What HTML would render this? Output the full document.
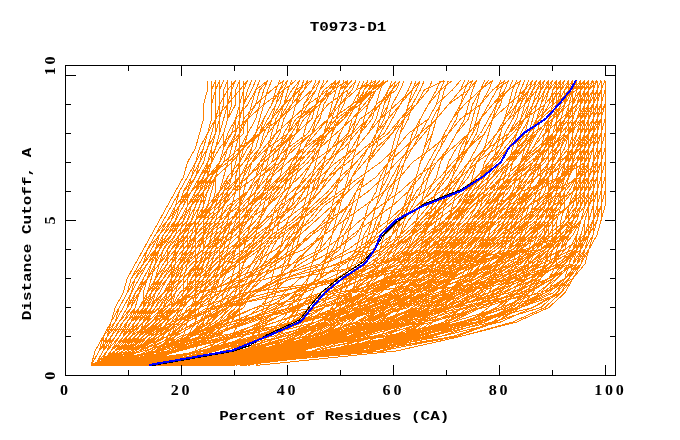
<!DOCTYPE html>
<html><head><meta charset="utf-8"><title>T0973-D1</title>
<style>
html,body{margin:0;padding:0;background:#fff;}
body{width:680px;height:440px;overflow:hidden;position:relative;}
svg{position:absolute;left:0;top:0;}
.t{font-family:"Liberation Mono",monospace;font-weight:bold;fill:#000;}
.n{font-family:"Liberation Serif",serif;font-weight:bold;fill:#000;}
</style></head><body>
<svg width="680" height="440" viewBox="0 0 680 440">
<g fill="none" stroke="#ff8000" stroke-width="1" shape-rendering="crispEdges">
<polyline points="91.1,365.5 95.1,351 103.1,336.5 111.1,322 115.2,307.5 123.2,293 127.2,278.5 135.2,264 143.3,249.5 151.3,235 159.3,220.5 167.3,206 175.4,191.5 183.4,177 187.4,162.5 195.5,148 199.5,133.5 203.5,119 203.5,104.5 207.5,90 207.5,80.5"/>
<polyline points="255.7,365.5 396.2,351 460.5,336.5 516.7,322 548.8,307.5 564.8,293 572.9,278.5 584.9,264 588.9,249.5 597,235 601,220.5 605,206 605,191.5 605,177 605,162.5 605,148 605,133.5 605,119 605,104.5 605,90 605,80.5"/>
<polyline points="183.4,365.5 263.7,351 323.9,336.5 372.1,322 400.2,307.5 432.3,293 452.4,278.5 476.5,264 496.6,249.5 512.7,235 532.7,220.5 544.8,206 552.8,191.5 560.8,177 568.9,162.5 572.9,148 576.9,133.5 580.9,119 584.9,104.5 588.9,90 588.9,80.5"/>
<polyline points="239.6,365.5 364.1,351 424.3,336.5 480.5,322 512.7,307.5 528.7,293 540.8,278.5 552.8,264 556.8,249.5 564.8,235 572.9,220.5 580.9,206 580.9,191.5 584.9,177 584.9,162.5 584.9,148 588.9,133.5 588.9,119 588.9,104.5 593,90 593,80.5"/>
<polyline points="175.4,365.5 360.1,351 388.2,336.5 404.2,322 428.3,307.5 460.5,293 496.6,278.5 516.7,264 528.7,249.5 532.7,235 540.8,220.5 548.8,206 552.8,191.5 560.8,177 564.8,162.5 568.9,148 572.9,133.5 572.9,119 576.9,104.5 580.9,90 580.9,80.5"/>
<polyline points="139.2,365.5 259.7,351 336,336.5 388.2,322 424.3,307.5 456.4,293 480.5,278.5 508.6,264 528.7,249.5 548.8,235 564.8,220.5 576.9,206 584.9,191.5 593,177 597,162.5 601,148 601,133.5 605,119 605,104.5 605,90 605,80.5"/>
<polyline points="155.3,365.5 267.7,351 328,336.5 368.1,322 400.2,307.5 440.4,293 492.6,278.5 540.8,264 572.9,249.5 588.9,235 597,220.5 597,206 597,191.5 601,177 601,162.5 601,148 601,133.5 601,119 601,104.5 601,90 601,80.5"/>
<polyline points="227.6,365.5 275.8,351 307.9,336.5 328,322 348,307.5 360.1,293 384.2,278.5 456.4,264 540.8,249.5 568.9,235 576.9,220.5 580.9,206 584.9,191.5 588.9,177 588.9,162.5 593,148 597,133.5 597,119 597,104.5 601,90 601,80.5"/>
<polyline points="175.4,365.5 259.7,351 311.9,336.5 360.1,322 396.2,307.5 428.3,293 444.4,278.5 472.5,264 492.6,249.5 508.6,235 524.7,220.5 540.8,206 548.8,191.5 560.8,177 564.8,162.5 572.9,148 580.9,133.5 580.9,119 588.9,104.5 593,90 593,80.5"/>
<polyline points="127.2,365.5 348,351 408.3,336.5 432.3,322 464.5,307.5 520.7,293 548.8,278.5 556.8,264 556.8,249.5 560.8,235 560.8,220.5 564.8,206 564.8,191.5 568.9,177 568.9,162.5 568.9,148 572.9,133.5 572.9,119 572.9,104.5 576.9,90 576.9,80.5"/>
<polyline points="95.1,365.5 247.7,351 336,336.5 392.2,322 448.4,307.5 500.6,293 536.7,278.5 552.8,264 564.8,249.5 568.9,235 572.9,220.5 576.9,206 576.9,191.5 580.9,177 584.9,162.5 584.9,148 588.9,133.5 588.9,119 593,104.5 593,90 593,80.5"/>
<polyline points="235.6,365.5 279.8,351 311.9,336.5 336,322 356.1,307.5 376.1,293 400.2,278.5 420.3,264 444.4,249.5 464.5,235 484.5,220.5 500.6,206 516.7,191.5 524.7,177 532.7,162.5 540.8,148 544.8,133.5 548.8,119 552.8,104.5 552.8,90 556.8,80.5"/>
<polyline points="95.1,365.5 259.7,351 328,336.5 376.1,322 416.3,307.5 444.4,293 472.5,278.5 492.6,264 512.7,249.5 528.7,235 544.8,220.5 556.8,206 568.9,191.5 576.9,177 580.9,162.5 588.9,148 593,133.5 597,119 597,104.5 601,90 601,80.5"/>
<polyline points="131.2,365.5 235.6,351 307.9,336.5 360.1,322 396.2,307.5 424.3,293 448.4,278.5 464.5,264 476.5,249.5 484.5,235 492.6,220.5 500.6,206 504.6,191.5 512.7,177 520.7,162.5 532.7,148 544.8,133.5 560.8,119 576.9,104.5 588.9,90 597,80.5"/>
<polyline points="119.2,365.5 247.7,351 323.9,336.5 372.1,322 400.2,307.5 420.3,293 432.3,278.5 440.4,264 448.4,249.5 460.5,235 472.5,220.5 484.5,206 504.6,191.5 520.7,177 540.8,162.5 556.8,148 568.9,133.5 580.9,119 593,104.5 597,90 601,80.5"/>
<polyline points="91.1,365.5 155.3,351 207.5,336.5 251.7,322 295.8,307.5 352,293 420.3,278.5 476.5,264 512.7,249.5 532.7,235 544.8,220.5 552.8,206 560.8,191.5 564.8,177 572.9,162.5 576.9,148 580.9,133.5 584.9,119 588.9,104.5 588.9,90 593,80.5"/>
<polyline points="223.6,365.5 356.1,351 412.3,336.5 444.4,322 460.5,307.5 476.5,293 504.6,278.5 536.7,264 560.8,249.5 568.9,235 572.9,220.5 576.9,206 580.9,191.5 584.9,177 588.9,162.5 588.9,148 593,133.5 593,119 597,104.5 597,90 597,80.5"/>
<polyline points="127.2,365.5 179.4,351 215.5,336.5 239.6,322 259.7,307.5 271.7,293 287.8,278.5 295.8,264 307.9,249.5 319.9,235 328,220.5 336,206 344,191.5 352,177 360.1,162.5 368.1,148 376.1,133.5 380.2,119 388.2,104.5 392.2,90 400.2,80.5"/>
<polyline points="119.2,365.5 287.8,351 328,336.5 336,322 340,307.5 348,293 388.2,278.5 468.5,264 528.7,249.5 544.8,235 544.8,220.5 548.8,206 548.8,191.5 548.8,177 552.8,162.5 552.8,148 552.8,133.5 556.8,119 556.8,104.5 560.8,90 560.8,80.5"/>
<polyline points="115.2,365.5 175.4,351 235.6,336.5 291.8,322 348,307.5 396.2,293 436.4,278.5 464.5,264 484.5,249.5 504.6,235 516.7,220.5 528.7,206 540.8,191.5 548.8,177 556.8,162.5 564.8,148 568.9,133.5 576.9,119 580.9,104.5 580.9,90 584.9,80.5"/>
<polyline points="127.2,365.5 267.7,351 356.1,336.5 404.2,322 436.4,307.5 460.5,293 488.6,278.5 528.7,264 564.8,249.5 584.9,235 593,220.5 597,206 597,191.5 597,177 597,162.5 597,148 601,133.5 601,119 601,104.5 601,90 601,80.5"/>
<polyline points="127.2,365.5 319.9,351 396.2,336.5 444.4,322 476.5,307.5 488.6,293 496.6,278.5 504.6,264 508.6,249.5 516.7,235 520.7,220.5 524.7,206 528.7,191.5 532.7,177 536.7,162.5 540.8,148 544.8,133.5 548.8,119 552.8,104.5 556.8,90 556.8,80.5"/>
<polyline points="127.2,365.5 247.7,351 323.9,336.5 388.2,322 448.4,307.5 508.6,293 548.8,278.5 576.9,264 588.9,249.5 593,235 593,220.5 597,206 597,191.5 597,177 597,162.5 601,148 601,133.5 601,119 601,104.5 601,90 601,80.5"/>
<polyline points="187.4,365.5 263.7,351 323.9,336.5 368.1,322 400.2,307.5 428.3,293 448.4,278.5 468.5,264 480.5,249.5 492.6,235 500.6,220.5 508.6,206 516.7,191.5 520.7,177 524.7,162.5 528.7,148 532.7,133.5 536.7,119 552.8,104.5 576.9,90 588.9,80.5"/>
<polyline points="171.4,365.5 239.6,351 291.8,336.5 336,322 376.1,307.5 416.3,293 456.4,278.5 492.6,264 528.7,249.5 552.8,235 572.9,220.5 584.9,206 593,191.5 597,177 601,162.5 601,148 601,133.5 605,119 605,104.5 605,90 605,80.5"/>
<polyline points="95.1,365.5 179.4,351 231.6,336.5 275.8,322 315.9,307.5 352,293 384.2,278.5 416.3,264 440.4,249.5 460.5,235 480.5,220.5 492.6,206 504.6,191.5 512.7,177 520.7,162.5 524.7,148 532.7,133.5 536.7,119 540.8,104.5 544.8,90 548.8,80.5"/>
<polyline points="115.2,365.5 147.3,351 171.4,336.5 195.5,322 227.6,307.5 275.8,293 336,278.5 384.2,264 420.3,249.5 436.4,235 452.4,220.5 460.5,206 472.5,191.5 480.5,177 488.6,162.5 500.6,148 504.6,133.5 512.7,119 520.7,104.5 524.7,90 528.7,80.5"/>
<polyline points="175.4,365.5 348,351 428.3,336.5 468.5,322 488.6,307.5 500.6,293 508.6,278.5 516.7,264 520.7,249.5 524.7,235 528.7,220.5 532.7,206 536.7,191.5 540.8,177 540.8,162.5 544.8,148 548.8,133.5 548.8,119 552.8,104.5 556.8,90 556.8,80.5"/>
<polyline points="203.5,365.5 368.1,351 452.4,336.5 496.6,322 520.7,307.5 532.7,293 540.8,278.5 544.8,264 548.8,249.5 552.8,235 552.8,220.5 552.8,206 556.8,191.5 556.8,177 560.8,162.5 572.9,148 588.9,133.5 597,119 605,104.5 605,90 605,80.5"/>
<polyline points="95.1,365.5 155.3,351 191.4,336.5 219.5,322 235.6,307.5 251.7,293 275.8,278.5 307.9,264 336,249.5 356.1,235 364.1,220.5 376.1,206 384.2,191.5 392.2,177 400.2,162.5 408.3,148 412.3,133.5 420.3,119 428.3,104.5 436.4,90 440.4,80.5"/>
<polyline points="195.5,365.5 295.8,351 356.1,336.5 392.2,322 420.3,307.5 440.4,293 452.4,278.5 464.5,264 472.5,249.5 480.5,235 488.6,220.5 496.6,206 500.6,191.5 508.6,177 512.7,162.5 516.7,148 524.7,133.5 528.7,119 532.7,104.5 536.7,90 540.8,80.5"/>
<polyline points="115.2,365.5 167.3,351 199.5,336.5 219.5,322 255.7,307.5 336,293 408.3,278.5 432.3,264 440.4,249.5 448.4,235 456.4,220.5 460.5,206 468.5,191.5 472.5,177 476.5,162.5 484.5,148 488.6,133.5 492.6,119 496.6,104.5 500.6,90 504.6,80.5"/>
<polyline points="119.2,365.5 263.7,351 356.1,336.5 412.3,322 448.4,307.5 472.5,293 488.6,278.5 496.6,264 504.6,249.5 508.6,235 512.7,220.5 516.7,206 520.7,191.5 528.7,177 536.7,162.5 544.8,148 556.8,133.5 564.8,119 572.9,104.5 580.9,90 584.9,80.5"/>
<polyline points="91.1,365.5 115.2,351 139.2,336.5 155.3,322 175.4,307.5 191.4,293 207.5,278.5 219.5,264 231.6,249.5 243.6,235 255.7,220.5 267.7,206 279.8,191.5 287.8,177 299.8,162.5 311.9,148 323.9,133.5 336,119 356.1,104.5 376.1,90 388.2,80.5"/>
<polyline points="167.3,365.5 251.7,351 291.8,336.5 336,322 368.1,307.5 392.2,293 420.3,278.5 448.4,264 464.5,249.5 484.5,235 496.6,220.5 516.7,206 520.7,191.5 532.7,177 536.7,162.5 544.8,148 548.8,133.5 552.8,119 556.8,104.5 560.8,90 560.8,80.5"/>
<polyline points="131.2,365.5 251.7,351 336,336.5 400.2,322 444.4,307.5 476.5,293 500.6,278.5 520.7,264 536.7,249.5 548.8,235 556.8,220.5 560.8,206 564.8,191.5 568.9,177 572.9,162.5 576.9,148 588.9,133.5 601,119 601,104.5 601,90 601,80.5"/>
<polyline points="227.6,365.5 348,351 404.2,336.5 464.5,322 496.6,307.5 516.7,293 532.7,278.5 548.8,264 552.8,249.5 564.8,235 568.9,220.5 576.9,206 580.9,191.5 580.9,177 580.9,162.5 584.9,148 584.9,133.5 584.9,119 588.9,104.5 588.9,90 588.9,80.5"/>
<polyline points="115.2,365.5 175.4,351 227.6,336.5 275.8,322 323.9,307.5 368.1,293 412.3,278.5 444.4,264 472.5,249.5 492.6,235 508.6,220.5 520.7,206 532.7,191.5 540.8,177 548.8,162.5 556.8,148 560.8,133.5 564.8,119 568.9,104.5 572.9,90 576.9,80.5"/>
<polyline points="103.1,365.5 119.2,351 135.2,336.5 147.3,322 163.3,307.5 199.5,293 243.6,278.5 291.8,264 319.9,249.5 332,235 340,220.5 348,206 356.1,191.5 364.1,177 368.1,162.5 376.1,148 380.2,133.5 388.2,119 392.2,104.5 400.2,90 404.2,80.5"/>
<polyline points="99.1,365.5 111.1,351 119.2,336.5 131.2,322 147.3,307.5 155.3,293 167.3,278.5 179.4,264 195.5,249.5 211.5,235 227.6,220.5 247.7,206 263.7,191.5 279.8,177 295.8,162.5 307.9,148 323.9,133.5 344,119 356.1,104.5 368.1,90 380.2,80.5"/>
<polyline points="111.1,365.5 259.7,351 336,336.5 392.2,322 432.3,307.5 468.5,293 500.6,278.5 528.7,264 548.8,249.5 564.8,235 580.9,220.5 584.9,206 593,191.5 597,177 597,162.5 601,148 601,133.5 601,119 605,104.5 605,90 605,80.5"/>
<polyline points="91.1,365.5 143.3,351 191.4,336.5 239.6,322 279.8,307.5 319.9,293 356.1,278.5 384.2,264 408.3,249.5 428.3,235 444.4,220.5 460.5,206 472.5,191.5 488.6,177 500.6,162.5 508.6,148 516.7,133.5 524.7,119 536.7,104.5 540.8,90 544.8,80.5"/>
<polyline points="99.1,365.5 111.1,351 119.2,336.5 131.2,322 143.3,307.5 151.3,293 155.3,278.5 167.3,264 179.4,249.5 191.4,235 203.5,220.5 219.5,206 231.6,191.5 247.7,177 259.7,162.5 275.8,148 287.8,133.5 295.8,119 315.9,104.5 332,90 336,80.5"/>
<polyline points="99.1,365.5 115.2,351 127.2,336.5 143.3,322 155.3,307.5 167.3,293 183.4,278.5 199.5,264 215.5,249.5 235.6,235 247.7,220.5 267.7,206 283.8,191.5 299.8,177 311.9,162.5 332,148 352,133.5 360.1,119 380.2,104.5 388.2,90 396.2,80.5"/>
<polyline points="227.6,365.5 372.1,351 424.3,336.5 448.4,322 460.5,307.5 468.5,293 472.5,278.5 480.5,264 484.5,249.5 488.6,235 492.6,220.5 496.6,206 500.6,191.5 504.6,177 508.6,162.5 516.7,148 532.7,133.5 552.8,119 568.9,104.5 580.9,90 588.9,80.5"/>
<polyline points="95.1,365.5 139.2,351 167.3,336.5 187.4,322 215.5,307.5 247.7,293 283.8,278.5 323.9,264 356.1,249.5 376.1,235 392.2,220.5 408.3,206 416.3,191.5 428.3,177 436.4,162.5 448.4,148 456.4,133.5 468.5,119 472.5,104.5 480.5,90 488.6,80.5"/>
<polyline points="107.1,365.5 203.5,351 271.7,336.5 328,322 372.1,307.5 404.2,293 432.3,278.5 452.4,264 472.5,249.5 484.5,235 496.6,220.5 504.6,206 520.7,191.5 560.8,177 584.9,162.5 588.9,148 593,133.5 593,119 597,104.5 597,90 597,80.5"/>
<polyline points="239.6,365.5 283.8,351 307.9,336.5 319.9,322 332,307.5 340,293 344,278.5 352,264 360.1,249.5 364.1,235 372.1,220.5 376.1,206 380.2,191.5 388.2,177 392.2,162.5 396.2,148 400.2,133.5 404.2,119 408.3,104.5 416.3,90 420.3,80.5"/>
<polyline points="111.1,365.5 151.3,351 175.4,336.5 187.4,322 211.5,307.5 267.7,293 348,278.5 404.2,264 424.3,249.5 432.3,235 436.4,220.5 440.4,206 448.4,191.5 452.4,177 456.4,162.5 460.5,148 468.5,133.5 472.5,119 476.5,104.5 480.5,90 484.5,80.5"/>
<polyline points="175.4,365.5 283.8,351 352,336.5 400.2,322 428.3,307.5 448.4,293 464.5,278.5 472.5,264 480.5,249.5 484.5,235 488.6,220.5 492.6,206 500.6,191.5 512.7,177 528.7,162.5 548.8,148 568.9,133.5 584.9,119 593,104.5 601,90 601,80.5"/>
<polyline points="123.2,365.5 175.4,351 211.5,336.5 243.6,322 271.7,307.5 303.9,293 336,278.5 360.1,264 384.2,249.5 404.2,235 420.3,220.5 436.4,206 448.4,191.5 460.5,177 468.5,162.5 476.5,148 484.5,133.5 492.6,119 500.6,104.5 504.6,90 508.6,80.5"/>
<polyline points="91.1,365.5 159.3,351 215.5,336.5 299.8,322 368.1,307.5 400.2,293 420.3,278.5 436.4,264 452.4,249.5 464.5,235 480.5,220.5 492.6,206 500.6,191.5 512.7,177 520.7,162.5 528.7,148 536.7,133.5 540.8,119 548.8,104.5 552.8,90 556.8,80.5"/>
<polyline points="99.1,365.5 111.1,351 119.2,336.5 131.2,322 143.3,307.5 151.3,293 163.3,278.5 175.4,264 187.4,249.5 199.5,235 215.5,220.5 231.6,206 247.7,191.5 255.7,177 271.7,162.5 287.8,148 307.9,133.5 315.9,119 328,104.5 348,90 356.1,80.5"/>
<polyline points="255.7,365.5 396.2,351 460.5,336.5 512.7,322 544.8,307.5 560.8,293 568.9,278.5 580.9,264 584.9,249.5 588.9,235 593,220.5 597,206 597,191.5 597,177 597,162.5 597,148 597,133.5 597,119 597,104.5 597,90 597,80.5"/>
<polyline points="91.1,365.5 135.2,351 159.3,336.5 179.4,322 195.5,307.5 203.5,293 211.5,278.5 219.5,264 223.6,249.5 227.6,235 231.6,220.5 239.6,206 243.6,191.5 247.7,177 251.7,162.5 259.7,148 263.7,133.5 271.7,119 279.8,104.5 283.8,90 287.8,80.5"/>
<polyline points="103.1,365.5 115.2,351 123.2,336.5 135.2,322 139.2,307.5 147.3,293 155.3,278.5 163.3,264 171.4,249.5 179.4,235 191.4,220.5 199.5,206 207.5,191.5 211.5,177 219.5,162.5 227.6,148 235.6,133.5 235.6,119 239.6,104.5 243.6,90 243.6,80.5"/>
<polyline points="107.1,365.5 127.2,351 139.2,336.5 151.3,322 167.3,307.5 175.4,293 187.4,278.5 199.5,264 207.5,249.5 219.5,235 235.6,220.5 247.7,206 259.7,191.5 271.7,177 287.8,162.5 303.9,148 323.9,133.5 332,119 352,104.5 372.1,90 388.2,80.5"/>
<polyline points="115.2,365.5 159.3,351 179.4,336.5 231.6,322 315.9,307.5 376.1,293 396.2,278.5 408.3,264 412.3,249.5 424.3,235 432.3,220.5 436.4,206 444.4,191.5 452.4,177 460.5,162.5 464.5,148 472.5,133.5 476.5,119 480.5,104.5 488.6,90 492.6,80.5"/>
<polyline points="247.7,365.5 251.7,351 259.7,336.5 259.7,322 263.7,307.5 267.7,293 271.7,278.5 275.8,264 279.8,249.5 283.8,235 287.8,220.5 295.8,206 303.9,191.5 315.9,177 328,162.5 340,148 352,133.5 368.1,119 380.2,104.5 392.2,90 396.2,80.5"/>
<polyline points="95.1,365.5 175.4,351 239.6,336.5 299.8,322 348,307.5 392.2,293 428.3,278.5 456.4,264 480.5,249.5 500.6,235 512.7,220.5 524.7,206 536.7,191.5 544.8,177 552.8,162.5 556.8,148 564.8,133.5 568.9,119 572.9,104.5 576.9,90 580.9,80.5"/>
<polyline points="163.3,365.5 259.7,351 348,336.5 424.3,322 484.5,307.5 528.7,293 552.8,278.5 564.8,264 572.9,249.5 576.9,235 580.9,220.5 584.9,206 588.9,191.5 588.9,177 593,162.5 593,148 597,133.5 597,119 597,104.5 601,90 601,80.5"/>
<polyline points="111.1,365.5 131.2,351 155.3,336.5 167.3,322 183.4,307.5 195.5,293 211.5,278.5 223.6,264 243.6,249.5 259.7,235 275.8,220.5 295.8,206 311.9,191.5 328,177 348,162.5 364.1,148 384.2,133.5 392.2,119 400.2,104.5 412.3,90 416.3,80.5"/>
<polyline points="139.2,365.5 175.4,351 203.5,336.5 223.6,322 239.6,307.5 255.7,293 291.8,278.5 376.1,264 428.3,249.5 444.4,235 452.4,220.5 464.5,206 472.5,191.5 480.5,177 484.5,162.5 492.6,148 500.6,133.5 504.6,119 512.7,104.5 516.7,90 520.7,80.5"/>
<polyline points="175.4,365.5 243.6,351 291.8,336.5 336,322 384.2,307.5 424.3,293 464.5,278.5 492.6,264 516.7,249.5 528.7,235 540.8,220.5 548.8,206 552.8,191.5 560.8,177 564.8,162.5 568.9,148 572.9,133.5 576.9,119 580.9,104.5 584.9,90 584.9,80.5"/>
<polyline points="123.2,365.5 131.2,351 139.2,336.5 147.3,322 151.3,307.5 155.3,293 159.3,278.5 167.3,264 167.3,249.5 175.4,235 179.4,220.5 187.4,206 195.5,191.5 207.5,177 223.6,162.5 239.6,148 259.7,133.5 279.8,119 295.8,104.5 311.9,90 315.9,80.5"/>
<polyline points="191.4,365.5 263.7,351 319.9,336.5 356.1,322 388.2,307.5 412.3,293 432.3,278.5 444.4,264 460.5,249.5 468.5,235 476.5,220.5 488.6,206 500.6,191.5 516.7,177 532.7,162.5 548.8,148 564.8,133.5 576.9,119 588.9,104.5 593,90 597,80.5"/>
<polyline points="107.1,365.5 127.2,351 143.3,336.5 163.3,322 175.4,307.5 187.4,293 203.5,278.5 223.6,264 235.6,249.5 251.7,235 267.7,220.5 279.8,206 299.8,191.5 311.9,177 323.9,162.5 344,148 356.1,133.5 368.1,119 376.1,104.5 396.2,90 400.2,80.5"/>
<polyline points="95.1,365.5 107.1,351 115.2,336.5 123.2,322 131.2,307.5 139.2,293 147.3,278.5 159.3,264 167.3,249.5 179.4,235 195.5,220.5 211.5,206 223.6,191.5 239.6,177 251.7,162.5 267.7,148 287.8,133.5 299.8,119 319.9,104.5 332,90 348,80.5"/>
<polyline points="183.4,365.5 328,351 412.3,336.5 476.5,322 520.7,307.5 544.8,293 556.8,278.5 568.9,264 572.9,249.5 580.9,235 584.9,220.5 588.9,206 593,191.5 597,177 597,162.5 597,148 601,133.5 601,119 601,104.5 601,90 605,80.5"/>
<polyline points="111.1,365.5 135.2,351 151.3,336.5 175.4,322 191.4,307.5 207.5,293 219.5,278.5 239.6,264 259.7,249.5 279.8,235 299.8,220.5 319.9,206 340,191.5 360.1,177 380.2,162.5 396.2,148 408.3,133.5 428.3,119 436.4,104.5 452.4,90 460.5,80.5"/>
<polyline points="139.2,365.5 199.5,351 251.7,336.5 303.9,322 356.1,307.5 400.2,293 440.4,278.5 472.5,264 496.6,249.5 516.7,235 528.7,220.5 540.8,206 548.8,191.5 556.8,177 564.8,162.5 568.9,148 572.9,133.5 576.9,119 580.9,104.5 584.9,90 584.9,80.5"/>
<polyline points="99.1,365.5 111.1,351 123.2,336.5 139.2,322 151.3,307.5 163.3,293 179.4,278.5 191.4,264 207.5,249.5 227.6,235 247.7,220.5 259.7,206 275.8,191.5 291.8,177 307.9,162.5 319.9,148 336,133.5 352,119 364.1,104.5 376.1,90 384.2,80.5"/>
<polyline points="175.4,365.5 247.7,351 291.8,336.5 323.9,322 344,307.5 364.1,293 376.1,278.5 392.2,264 404.2,249.5 412.3,235 424.3,220.5 436.4,206 444.4,191.5 452.4,177 460.5,162.5 468.5,148 476.5,133.5 480.5,119 488.6,104.5 496.6,90 508.6,80.5"/>
<polyline points="115.2,365.5 135.2,351 147.3,336.5 155.3,322 163.3,307.5 167.3,293 175.4,278.5 179.4,264 187.4,249.5 191.4,235 195.5,220.5 203.5,206 207.5,191.5 215.5,177 219.5,162.5 223.6,148 227.6,133.5 235.6,119 239.6,104.5 243.6,90 247.7,80.5"/>
<polyline points="239.6,365.5 267.7,351 287.8,336.5 315.9,322 348,307.5 388.2,293 424.3,278.5 448.4,264 460.5,249.5 468.5,235 472.5,220.5 480.5,206 484.5,191.5 488.6,177 492.6,162.5 496.6,148 500.6,133.5 504.6,119 508.6,104.5 512.7,90 516.7,80.5"/>
<polyline points="99.1,365.5 115.2,351 131.2,336.5 151.3,322 171.4,307.5 191.4,293 211.5,278.5 235.6,264 251.7,249.5 267.7,235 279.8,220.5 291.8,206 295.8,191.5 303.9,177 311.9,162.5 319.9,148 323.9,133.5 328,119 336,104.5 340,90 344,80.5"/>
<polyline points="135.2,365.5 155.3,351 171.4,336.5 183.4,322 199.5,307.5 243.6,293 352,278.5 424.3,264 444.4,249.5 452.4,235 460.5,220.5 468.5,206 476.5,191.5 484.5,177 492.6,162.5 500.6,148 504.6,133.5 512.7,119 516.7,104.5 520.7,90 524.7,80.5"/>
<polyline points="163.3,365.5 215.5,351 231.6,336.5 239.6,322 239.6,307.5 239.6,293 239.6,278.5 239.6,264 239.6,249.5 239.6,235 239.6,220.5 239.6,206 239.6,191.5 239.6,177 239.6,162.5 239.6,148 239.6,133.5 239.6,119 239.6,104.5 239.6,90 239.6,80.5"/>
<polyline points="151.3,365.5 279.8,351 356.1,336.5 404.2,322 436.4,307.5 460.5,293 480.5,278.5 500.6,264 516.7,249.5 536.7,235 552.8,220.5 568.9,206 580.9,191.5 588.9,177 597,162.5 601,148 601,133.5 605,119 605,104.5 605,90 605,80.5"/>
<polyline points="107.1,365.5 127.2,351 135.2,336.5 151.3,322 163.3,307.5 171.4,293 175.4,278.5 187.4,264 195.5,249.5 207.5,235 219.5,220.5 227.6,206 247.7,191.5 255.7,177 271.7,162.5 275.8,148 295.8,133.5 303.9,119 319.9,104.5 332,90 340,80.5"/>
<polyline points="95.1,365.5 155.3,351 175.4,336.5 187.4,322 195.5,307.5 207.5,293 235.6,278.5 267.7,264 303.9,249.5 323.9,235 332,220.5 336,206 344,191.5 348,177 352,162.5 356.1,148 360.1,133.5 364.1,119 368.1,104.5 372.1,90 376.1,80.5"/>
<polyline points="155.3,365.5 211.5,351 259.7,336.5 299.8,322 336,307.5 364.1,293 388.2,278.5 412.3,264 432.3,249.5 452.4,235 468.5,220.5 484.5,206 496.6,191.5 512.7,177 524.7,162.5 532.7,148 540.8,133.5 548.8,119 556.8,104.5 560.8,90 564.8,80.5"/>
<polyline points="123.2,365.5 179.4,351 215.5,336.5 239.6,322 259.7,307.5 271.7,293 279.8,278.5 287.8,264 295.8,249.5 299.8,235 303.9,220.5 307.9,206 311.9,191.5 315.9,177 323.9,162.5 328,148 332,133.5 340,119 356.1,104.5 372.1,90 384.2,80.5"/>
<polyline points="99.1,365.5 159.3,351 187.4,336.5 203.5,322 207.5,307.5 215.5,293 219.5,278.5 223.6,264 227.6,249.5 231.6,235 235.6,220.5 239.6,206 239.6,191.5 243.6,177 247.7,162.5 251.7,148 255.7,133.5 259.7,119 263.7,104.5 267.7,90 271.7,80.5"/>
<polyline points="91.1,365.5 143.3,351 163.3,336.5 171.4,322 179.4,307.5 183.4,293 183.4,278.5 187.4,264 191.4,249.5 195.5,235 195.5,220.5 199.5,206 203.5,191.5 207.5,177 207.5,162.5 211.5,148 215.5,133.5 215.5,119 219.5,104.5 227.6,90 235.6,80.5"/>
<polyline points="119.2,365.5 135.2,351 151.3,336.5 171.4,322 219.5,307.5 291.8,293 348,278.5 372.1,264 384.2,249.5 392.2,235 404.2,220.5 412.3,206 420.3,191.5 424.3,177 432.3,162.5 440.4,148 448.4,133.5 456.4,119 460.5,104.5 464.5,90 468.5,80.5"/>
<polyline points="131.2,365.5 364.1,351 412.3,336.5 424.3,322 428.3,307.5 428.3,293 428.3,278.5 432.3,264 436.4,249.5 440.4,235 444.4,220.5 456.4,206 464.5,191.5 480.5,177 496.6,162.5 508.6,148 528.7,133.5 540.8,119 556.8,104.5 564.8,90 572.9,80.5"/>
<polyline points="167.3,365.5 287.8,351 364.1,336.5 416.3,322 452.4,307.5 476.5,293 492.6,278.5 500.6,264 508.6,249.5 512.7,235 516.7,220.5 520.7,206 524.7,191.5 536.7,177 556.8,162.5 580.9,148 597,133.5 601,119 605,104.5 605,90 605,80.5"/>
<polyline points="107.1,365.5 155.3,351 187.4,336.5 231.6,322 291.8,307.5 344,293 376.1,278.5 396.2,264 408.3,249.5 420.3,235 432.3,220.5 440.4,206 452.4,191.5 460.5,177 468.5,162.5 476.5,148 484.5,133.5 492.6,119 496.6,104.5 504.6,90 508.6,80.5"/>
<polyline points="123.2,365.5 171.4,351 191.4,336.5 207.5,322 219.5,307.5 227.6,293 235.6,278.5 243.6,264 247.7,249.5 255.7,235 259.7,220.5 267.7,206 271.7,191.5 279.8,177 283.8,162.5 287.8,148 291.8,133.5 299.8,119 303.9,104.5 311.9,90 319.9,80.5"/>
<polyline points="199.5,365.5 259.7,351 303.9,336.5 336,322 364.1,307.5 388.2,293 412.3,278.5 436.4,264 456.4,249.5 476.5,235 496.6,220.5 516.7,206 532.7,191.5 544.8,177 552.8,162.5 560.8,148 568.9,133.5 572.9,119 576.9,104.5 580.9,90 584.9,80.5"/>
<polyline points="103.1,365.5 119.2,351 127.2,336.5 139.2,322 147.3,307.5 155.3,293 163.3,278.5 171.4,264 179.4,249.5 191.4,235 203.5,220.5 211.5,206 219.5,191.5 231.6,177 243.6,162.5 251.7,148 255.7,133.5 259.7,119 263.7,104.5 267.7,90 271.7,80.5"/>
<polyline points="111.1,365.5 139.2,351 159.3,336.5 179.4,322 199.5,307.5 219.5,293 235.6,278.5 251.7,264 275.8,249.5 291.8,235 311.9,220.5 323.9,206 344,191.5 352,177 364.1,162.5 376.1,148 392.2,133.5 400.2,119 412.3,104.5 420.3,90 424.3,80.5"/>
<polyline points="215.5,365.5 380.2,351 456.4,336.5 492.6,322 512.7,307.5 520.7,293 524.7,278.5 528.7,264 528.7,249.5 532.7,235 536.7,220.5 540.8,206 548.8,191.5 560.8,177 572.9,162.5 584.9,148 593,133.5 597,119 601,104.5 605,90 605,80.5"/>
<polyline points="159.3,365.5 215.5,351 259.7,336.5 303.9,322 336,307.5 368.1,293 396.2,278.5 416.3,264 436.4,249.5 456.4,235 472.5,220.5 488.6,206 504.6,191.5 520.7,177 536.7,162.5 544.8,148 552.8,133.5 556.8,119 564.8,104.5 568.9,90 572.9,80.5"/>
<polyline points="127.2,365.5 251.7,351 328,336.5 384.2,322 468.5,307.5 540.8,293 564.8,278.5 576.9,264 580.9,249.5 588.9,235 593,220.5 597,206 597,191.5 597,177 601,162.5 601,148 601,133.5 601,119 605,104.5 605,90 605,80.5"/>
<polyline points="111.1,365.5 127.2,351 131.2,336.5 139.2,322 143.3,307.5 143.3,293 147.3,278.5 155.3,264 155.3,249.5 163.3,235 171.4,220.5 179.4,206 183.4,191.5 191.4,177 199.5,162.5 203.5,148 207.5,133.5 211.5,119 211.5,104.5 215.5,90 215.5,80.5"/>
<polyline points="111.1,365.5 179.4,351 211.5,336.5 227.6,322 239.6,307.5 251.7,293 283.8,278.5 340,264 380.2,249.5 392.2,235 396.2,220.5 404.2,206 408.3,191.5 416.3,177 420.3,162.5 424.3,148 432.3,133.5 436.4,119 440.4,104.5 444.4,90 448.4,80.5"/>
<polyline points="139.2,365.5 175.4,351 187.4,336.5 195.5,322 199.5,307.5 203.5,293 207.5,278.5 211.5,264 215.5,249.5 219.5,235 223.6,220.5 231.6,206 235.6,191.5 243.6,177 251.7,162.5 263.7,148 275.8,133.5 291.8,119 307.9,104.5 328,90 340,80.5"/>
<polyline points="203.5,365.5 299.8,351 360.1,336.5 400.2,322 424.3,307.5 440.4,293 448.4,278.5 456.4,264 460.5,249.5 464.5,235 468.5,220.5 476.5,206 480.5,191.5 492.6,177 504.6,162.5 516.7,148 536.7,133.5 548.8,119 564.8,104.5 572.9,90 580.9,80.5"/>
<polyline points="91.1,365.5 99.1,351 103.1,336.5 111.1,322 119.2,307.5 127.2,293 131.2,278.5 143.3,264 147.3,249.5 159.3,235 167.3,220.5 179.4,206 183.4,191.5 195.5,177 203.5,162.5 207.5,148 215.5,133.5 219.5,119 223.6,104.5 223.6,90 227.6,80.5"/>
<polyline points="91.1,365.5 127.2,351 159.3,336.5 183.4,322 211.5,307.5 231.6,293 255.7,278.5 275.8,264 295.8,249.5 311.9,235 332,220.5 348,206 368.1,191.5 384.2,177 396.2,162.5 412.3,148 424.3,133.5 436.4,119 448.4,104.5 460.5,90 464.5,80.5"/>
<polyline points="111.1,365.5 207.5,351 263.7,336.5 299.8,322 323.9,307.5 364.1,293 456.4,278.5 520.7,264 532.7,249.5 536.7,235 540.8,220.5 544.8,206 548.8,191.5 552.8,177 552.8,162.5 556.8,148 560.8,133.5 560.8,119 564.8,104.5 564.8,90 568.9,80.5"/>
<polyline points="95.1,365.5 123.2,351 143.3,336.5 159.3,322 171.4,307.5 187.4,293 199.5,278.5 215.5,264 235.6,249.5 255.7,235 275.8,220.5 291.8,206 303.9,191.5 315.9,177 328,162.5 336,148 340,133.5 348,119 356.1,104.5 360.1,90 364.1,80.5"/>
<polyline points="127.2,365.5 243.6,351 303.9,336.5 336,322 356.1,307.5 408.3,293 516.7,278.5 572.9,264 580.9,249.5 580.9,235 584.9,220.5 588.9,206 588.9,191.5 593,177 597,162.5 597,148 597,133.5 597,119 601,104.5 601,90 601,80.5"/>
<polyline points="99.1,365.5 111.1,351 123.2,336.5 135.2,322 147.3,307.5 163.3,293 175.4,278.5 183.4,264 203.5,249.5 215.5,235 231.6,220.5 243.6,206 255.7,191.5 267.7,177 283.8,162.5 291.8,148 311.9,133.5 319.9,119 323.9,104.5 332,90 348,80.5"/>
<polyline points="95.1,365.5 155.3,351 203.5,336.5 247.7,322 291.8,307.5 328,293 364.1,278.5 396.2,264 420.3,249.5 440.4,235 456.4,220.5 468.5,206 480.5,191.5 492.6,177 500.6,162.5 508.6,148 516.7,133.5 520.7,119 528.7,104.5 532.7,90 536.7,80.5"/>
<polyline points="191.4,365.5 311.9,351 380.2,336.5 424.3,322 456.4,307.5 488.6,293 512.7,278.5 536.7,264 552.8,249.5 568.9,235 580.9,220.5 588.9,206 593,191.5 597,177 597,162.5 601,148 601,133.5 601,119 605,104.5 605,90 605,80.5"/>
<polyline points="171.4,365.5 336,351 428.3,336.5 492.6,322 540.8,307.5 556.8,293 564.8,278.5 568.9,264 576.9,249.5 576.9,235 580.9,220.5 584.9,206 584.9,191.5 588.9,177 588.9,162.5 593,148 593,133.5 593,119 597,104.5 597,90 597,80.5"/>
<polyline points="95.1,365.5 155.3,351 191.4,336.5 223.6,322 255.7,307.5 291.8,293 328,278.5 356.1,264 380.2,249.5 400.2,235 416.3,220.5 428.3,206 436.4,191.5 448.4,177 456.4,162.5 464.5,148 472.5,133.5 480.5,119 488.6,104.5 496.6,90 500.6,80.5"/>
<polyline points="143.3,365.5 175.4,351 191.4,336.5 203.5,322 211.5,307.5 219.5,293 223.6,278.5 231.6,264 235.6,249.5 239.6,235 243.6,220.5 247.7,206 251.7,191.5 259.7,177 263.7,162.5 267.7,148 271.7,133.5 275.8,119 283.8,104.5 291.8,90 299.8,80.5"/>
<polyline points="111.1,365.5 279.8,351 352,336.5 392.2,322 416.3,307.5 432.3,293 444.4,278.5 456.4,264 468.5,249.5 476.5,235 484.5,220.5 488.6,206 496.6,191.5 500.6,177 508.6,162.5 512.7,148 516.7,133.5 524.7,119 532.7,104.5 540.8,90 548.8,80.5"/>
<polyline points="139.2,365.5 163.3,351 175.4,336.5 183.4,322 191.4,307.5 195.5,293 199.5,278.5 203.5,264 207.5,249.5 211.5,235 215.5,220.5 219.5,206 223.6,191.5 231.6,177 235.6,162.5 239.6,148 247.7,133.5 255.7,119 259.7,104.5 263.7,90 267.7,80.5"/>
<polyline points="107.1,365.5 123.2,351 127.2,336.5 135.2,322 143.3,307.5 147.3,293 151.3,278.5 155.3,264 159.3,249.5 167.3,235 175.4,220.5 183.4,206 187.4,191.5 195.5,177 199.5,162.5 203.5,148 207.5,133.5 211.5,119 211.5,104.5 211.5,90 211.5,80.5"/>
<polyline points="111.1,365.5 135.2,351 159.3,336.5 175.4,322 199.5,307.5 211.5,293 227.6,278.5 251.7,264 263.7,249.5 283.8,235 299.8,220.5 315.9,206 332,191.5 340,177 356.1,162.5 368.1,148 388.2,133.5 400.2,119 416.3,104.5 424.3,90 444.4,80.5"/>
<polyline points="91.1,365.5 251.7,351 340,336.5 388.2,322 412.3,307.5 428.3,293 440.4,278.5 444.4,264 452.4,249.5 456.4,235 468.5,220.5 476.5,206 488.6,191.5 504.6,177 520.7,162.5 536.7,148 552.8,133.5 564.8,119 576.9,104.5 584.9,90 584.9,80.5"/>
<polyline points="99.1,365.5 171.4,351 223.6,336.5 263.7,322 299.8,307.5 328,293 352,278.5 376.1,264 396.2,249.5 412.3,235 428.3,220.5 440.4,206 456.4,191.5 468.5,177 476.5,162.5 488.6,148 496.6,133.5 504.6,119 516.7,104.5 528.7,90 536.7,80.5"/>
<polyline points="95.1,365.5 275.8,351 384.2,336.5 452.4,322 500.6,307.5 536.7,293 556.8,278.5 572.9,264 584.9,249.5 588.9,235 593,220.5 597,206 597,191.5 601,177 601,162.5 601,148 601,133.5 601,119 601,104.5 601,90 601,80.5"/>
<polyline points="151.3,365.5 215.5,351 259.7,336.5 299.8,322 336,307.5 360.1,293 392.2,278.5 412.3,264 440.4,249.5 460.5,235 480.5,220.5 500.6,206 516.7,191.5 528.7,177 544.8,162.5 552.8,148 560.8,133.5 572.9,119 576.9,104.5 584.9,90 584.9,80.5"/>
<polyline points="115.2,365.5 139.2,351 155.3,336.5 163.3,322 171.4,307.5 175.4,293 179.4,278.5 183.4,264 187.4,249.5 187.4,235 191.4,220.5 195.5,206 199.5,191.5 203.5,177 211.5,162.5 219.5,148 231.6,133.5 247.7,119 263.7,104.5 283.8,90 295.8,80.5"/>
<polyline points="115.2,365.5 159.3,351 187.4,336.5 211.5,322 223.6,307.5 239.6,293 247.7,278.5 255.7,264 263.7,249.5 271.7,235 275.8,220.5 283.8,206 287.8,191.5 295.8,177 299.8,162.5 303.9,148 311.9,133.5 315.9,119 319.9,104.5 328,90 336,80.5"/>
<polyline points="147.3,365.5 159.3,351 171.4,336.5 179.4,322 187.4,307.5 211.5,293 267.7,278.5 319.9,264 340,249.5 344,235 352,220.5 356.1,206 360.1,191.5 364.1,177 368.1,162.5 372.1,148 376.1,133.5 380.2,119 384.2,104.5 388.2,90 392.2,80.5"/>
<polyline points="171.4,365.5 275.8,351 348,336.5 396.2,322 432.3,307.5 456.4,293 480.5,278.5 496.6,264 512.7,249.5 524.7,235 536.7,220.5 548.8,206 560.8,191.5 568.9,177 576.9,162.5 580.9,148 584.9,133.5 588.9,119 593,104.5 597,90 597,80.5"/>
<polyline points="107.1,365.5 155.3,351 199.5,336.5 231.6,322 267.7,307.5 291.8,293 319.9,278.5 344,264 364.1,249.5 384.2,235 400.2,220.5 416.3,206 432.3,191.5 444.4,177 456.4,162.5 468.5,148 480.5,133.5 488.6,119 496.6,104.5 508.6,90 512.7,80.5"/>
<polyline points="195.5,365.5 291.8,351 352,336.5 404.2,322 452.4,307.5 496.6,293 524.7,278.5 536.7,264 544.8,249.5 548.8,235 548.8,220.5 552.8,206 556.8,191.5 556.8,177 560.8,162.5 560.8,148 564.8,133.5 568.9,119 568.9,104.5 572.9,90 572.9,80.5"/>
<polyline points="99.1,365.5 107.1,351 119.2,336.5 127.2,322 139.2,307.5 147.3,293 159.3,278.5 171.4,264 183.4,249.5 195.5,235 207.5,220.5 223.6,206 235.6,191.5 255.7,177 263.7,162.5 279.8,148 291.8,133.5 299.8,119 315.9,104.5 323.9,90 336,80.5"/>
<polyline points="95.1,365.5 139.2,351 175.4,336.5 199.5,322 219.5,307.5 239.6,293 255.7,278.5 267.7,264 279.8,249.5 287.8,235 299.8,220.5 307.9,206 315.9,191.5 323.9,177 332,162.5 340,148 348,133.5 356.1,119 360.1,104.5 368.1,90 376.1,80.5"/>
<polyline points="143.3,365.5 231.6,351 283.8,336.5 332,322 380.2,307.5 428.3,293 464.5,278.5 488.6,264 500.6,249.5 508.6,235 516.7,220.5 520.7,206 528.7,191.5 532.7,177 536.7,162.5 540.8,148 548.8,133.5 552.8,119 556.8,104.5 556.8,90 560.8,80.5"/>
<polyline points="103.1,365.5 123.2,351 131.2,336.5 143.3,322 159.3,307.5 171.4,293 183.4,278.5 195.5,264 211.5,249.5 227.6,235 239.6,220.5 251.7,206 267.7,191.5 283.8,177 299.8,162.5 311.9,148 328,133.5 344,119 352,104.5 360.1,90 368.1,80.5"/>
<polyline points="223.6,365.5 348,351 428.3,336.5 480.5,322 520.7,307.5 548.8,293 564.8,278.5 576.9,264 584.9,249.5 593,235 593,220.5 597,206 597,191.5 597,177 597,162.5 597,148 601,133.5 601,119 601,104.5 601,90 601,80.5"/>
<polyline points="91.1,365.5 99.1,351 107.1,336.5 115.2,322 123.2,307.5 131.2,293 139.2,278.5 147.3,264 155.3,249.5 171.4,235 179.4,220.5 191.4,206 203.5,191.5 215.5,177 231.6,162.5 243.6,148 259.7,133.5 271.7,119 283.8,104.5 299.8,90 307.9,80.5"/>
<polyline points="187.4,365.5 231.6,351 263.7,336.5 291.8,322 311.9,307.5 332,293 364.1,278.5 436.4,264 524.7,249.5 564.8,235 576.9,220.5 580.9,206 584.9,191.5 588.9,177 593,162.5 593,148 597,133.5 597,119 597,104.5 601,90 601,80.5"/>
<polyline points="119.2,365.5 203.5,351 271.7,336.5 328,322 368.1,307.5 408.3,293 436.4,278.5 460.5,264 480.5,249.5 496.6,235 508.6,220.5 516.7,206 528.7,191.5 532.7,177 540.8,162.5 544.8,148 548.8,133.5 552.8,119 560.8,104.5 572.9,90 584.9,80.5"/>
<polyline points="155.3,365.5 163.3,351 171.4,336.5 175.4,322 179.4,307.5 187.4,293 187.4,278.5 195.5,264 199.5,249.5 203.5,235 203.5,220.5 207.5,206 211.5,191.5 215.5,177 219.5,162.5 223.6,148 231.6,133.5 235.6,119 247.7,104.5 255.7,90 267.7,80.5"/>
<polyline points="103.1,365.5 175.4,351 199.5,336.5 211.5,322 219.5,307.5 223.6,293 231.6,278.5 235.6,264 243.6,249.5 247.7,235 251.7,220.5 259.7,206 263.7,191.5 267.7,177 275.8,162.5 279.8,148 283.8,133.5 291.8,119 295.8,104.5 299.8,90 303.9,80.5"/>
<polyline points="171.4,365.5 319.9,351 352,336.5 376.1,322 400.2,307.5 448.4,293 512.7,278.5 560.8,264 580.9,249.5 588.9,235 593,220.5 593,206 597,191.5 597,177 601,162.5 601,148 601,133.5 601,119 605,104.5 605,90 605,80.5"/>
<polyline points="91.1,365.5 131.2,351 167.3,336.5 199.5,322 227.6,307.5 255.7,293 279.8,278.5 299.8,264 323.9,249.5 344,235 360.1,220.5 380.2,206 400.2,191.5 416.3,177 436.4,162.5 452.4,148 468.5,133.5 480.5,119 492.6,104.5 504.6,90 508.6,80.5"/>
<polyline points="119.2,365.5 271.7,351 307.9,336.5 323.9,322 332,307.5 340,293 348,278.5 356.1,264 364.1,249.5 372.1,235 376.1,220.5 384.2,206 388.2,191.5 396.2,177 404.2,162.5 408.3,148 416.3,133.5 420.3,119 428.3,104.5 436.4,90 440.4,80.5"/>
<polyline points="195.5,365.5 323.9,351 400.2,336.5 448.4,322 476.5,307.5 492.6,293 508.6,278.5 512.7,264 516.7,249.5 520.7,235 524.7,220.5 528.7,206 552.8,191.5 580.9,177 597,162.5 597,148 601,133.5 601,119 601,104.5 601,90 601,80.5"/>
<polyline points="215.5,365.5 287.8,351 323.9,336.5 340,322 352,307.5 364.1,293 372.1,278.5 380.2,264 392.2,249.5 408.3,235 424.3,220.5 444.4,206 460.5,191.5 476.5,177 492.6,162.5 504.6,148 516.7,133.5 524.7,119 528.7,104.5 532.7,90 536.7,80.5"/>
<polyline points="103.1,365.5 119.2,351 135.2,336.5 151.3,322 171.4,307.5 179.4,293 195.5,278.5 211.5,264 227.6,249.5 247.7,235 263.7,220.5 283.8,206 299.8,191.5 319.9,177 336,162.5 356.1,148 368.1,133.5 380.2,119 396.2,104.5 412.3,90 420.3,80.5"/>
<polyline points="187.4,365.5 259.7,351 295.8,336.5 323.9,322 348,307.5 372.1,293 400.2,278.5 428.3,264 452.4,249.5 472.5,235 492.6,220.5 504.6,206 516.7,191.5 524.7,177 532.7,162.5 540.8,148 544.8,133.5 548.8,119 556.8,104.5 560.8,90 564.8,80.5"/>
<polyline points="119.2,365.5 372.1,351 404.2,336.5 424.3,322 456.4,307.5 488.6,293 520.7,278.5 540.8,264 548.8,249.5 556.8,235 556.8,220.5 560.8,206 560.8,191.5 564.8,177 564.8,162.5 568.9,148 568.9,133.5 568.9,119 572.9,104.5 572.9,90 572.9,80.5"/>
<polyline points="91.1,365.5 131.2,351 147.3,336.5 155.3,322 159.3,307.5 167.3,293 171.4,278.5 171.4,264 175.4,249.5 179.4,235 183.4,220.5 187.4,206 187.4,191.5 191.4,177 195.5,162.5 199.5,148 207.5,133.5 215.5,119 227.6,104.5 239.6,90 247.7,80.5"/>
<polyline points="103.1,365.5 123.2,351 139.2,336.5 159.3,322 179.4,307.5 199.5,293 219.5,278.5 231.6,264 255.7,249.5 275.8,235 295.8,220.5 311.9,206 328,191.5 340,177 344,162.5 356.1,148 360.1,133.5 372.1,119 376.1,104.5 380.2,90 384.2,80.5"/>
<polyline points="147.3,365.5 211.5,351 255.7,336.5 291.8,322 323.9,307.5 348,293 368.1,278.5 392.2,264 408.3,249.5 416.3,235 436.4,220.5 456.4,206 468.5,191.5 476.5,177 492.6,162.5 504.6,148 516.7,133.5 524.7,119 536.7,104.5 544.8,90 552.8,80.5"/>
<polyline points="95.1,365.5 119.2,351 135.2,336.5 147.3,322 155.3,307.5 163.3,293 171.4,278.5 183.4,264 195.5,249.5 207.5,235 223.6,220.5 235.6,206 247.7,191.5 255.7,177 259.7,162.5 267.7,148 275.8,133.5 279.8,119 283.8,104.5 287.8,90 291.8,80.5"/>
<polyline points="211.5,365.5 364.1,351 440.4,336.5 484.5,322 508.6,307.5 524.7,293 536.7,278.5 544.8,264 552.8,249.5 556.8,235 564.8,220.5 568.9,206 576.9,191.5 584.9,177 588.9,162.5 593,148 601,133.5 601,119 601,104.5 605,90 605,80.5"/>
<polyline points="215.5,365.5 231.6,351 251.7,336.5 263.7,322 279.8,307.5 295.8,293 307.9,278.5 319.9,264 336,249.5 352,235 372.1,220.5 392.2,206 408.3,191.5 420.3,177 428.3,162.5 436.4,148 444.4,133.5 452.4,119 460.5,104.5 468.5,90 472.5,80.5"/>
<polyline points="247.7,365.5 299.8,351 336,336.5 360.1,322 380.2,307.5 392.2,293 404.2,278.5 416.3,264 424.3,249.5 436.4,235 452.4,220.5 468.5,206 484.5,191.5 504.6,177 520.7,162.5 540.8,148 556.8,133.5 568.9,119 580.9,104.5 588.9,90 593,80.5"/>
<polyline points="111.1,365.5 131.2,351 159.3,336.5 183.4,322 207.5,307.5 223.6,293 247.7,278.5 263.7,264 283.8,249.5 299.8,235 315.9,220.5 332,206 348,191.5 364.1,177 368.1,162.5 380.2,148 392.2,133.5 404.2,119 416.3,104.5 428.3,90 432.3,80.5"/>
<polyline points="135.2,365.5 231.6,351 283.8,336.5 323.9,322 360.1,307.5 388.2,293 412.3,278.5 432.3,264 448.4,249.5 464.5,235 476.5,220.5 492.6,206 504.6,191.5 520.7,177 540.8,162.5 556.8,148 568.9,133.5 580.9,119 584.9,104.5 588.9,90 593,80.5"/>
<polyline points="95.1,365.5 103.1,351 107.1,336.5 119.2,322 127.2,307.5 131.2,293 139.2,278.5 147.3,264 159.3,249.5 167.3,235 179.4,220.5 187.4,206 199.5,191.5 207.5,177 219.5,162.5 227.6,148 239.6,133.5 247.7,119 255.7,104.5 259.7,90 267.7,80.5"/>
<polyline points="115.2,365.5 263.7,351 356.1,336.5 408.3,322 440.4,307.5 460.5,293 472.5,278.5 484.5,264 500.6,249.5 516.7,235 536.7,220.5 552.8,206 572.9,191.5 588.9,177 593,162.5 601,148 601,133.5 601,119 605,104.5 605,90 605,80.5"/>
<polyline points="107.1,365.5 179.4,351 207.5,336.5 219.5,322 227.6,307.5 235.6,293 239.6,278.5 243.6,264 251.7,249.5 255.7,235 259.7,220.5 263.7,206 267.7,191.5 271.7,177 275.8,162.5 279.8,148 287.8,133.5 291.8,119 295.8,104.5 303.9,90 311.9,80.5"/>
<polyline points="159.3,365.5 340,351 432.3,336.5 476.5,322 496.6,307.5 512.7,293 520.7,278.5 532.7,264 548.8,249.5 564.8,235 580.9,220.5 588.9,206 597,191.5 601,177 605,162.5 605,148 605,133.5 605,119 605,104.5 605,90 605,80.5"/>
<polyline points="191.4,365.5 231.6,351 251.7,336.5 259.7,322 267.7,307.5 275.8,293 279.8,278.5 287.8,264 291.8,249.5 295.8,235 303.9,220.5 307.9,206 311.9,191.5 319.9,177 323.9,162.5 328,148 332,133.5 336,119 344,104.5 348,90 356.1,80.5"/>
<polyline points="215.5,365.5 283.8,351 307.9,336.5 323.9,322 336,307.5 348,293 364.1,278.5 380.2,264 404.2,249.5 424.3,235 444.4,220.5 464.5,206 484.5,191.5 496.6,177 508.6,162.5 520.7,148 528.7,133.5 532.7,119 536.7,104.5 540.8,90 544.8,80.5"/>
<polyline points="135.2,365.5 171.4,351 183.4,336.5 187.4,322 191.4,307.5 195.5,293 195.5,278.5 199.5,264 203.5,249.5 203.5,235 207.5,220.5 211.5,206 215.5,191.5 215.5,177 219.5,162.5 223.6,148 223.6,133.5 227.6,119 227.6,104.5 231.6,90 231.6,80.5"/>
<polyline points="111.1,365.5 167.3,351 211.5,336.5 247.7,322 275.8,307.5 299.8,293 319.9,278.5 340,264 360.1,249.5 380.2,235 400.2,220.5 420.3,206 440.4,191.5 460.5,177 476.5,162.5 496.6,148 512.7,133.5 524.7,119 536.7,104.5 544.8,90 548.8,80.5"/>
<polyline points="95.1,365.5 207.5,351 283.8,336.5 340,322 388.2,307.5 436.4,293 476.5,278.5 512.7,264 540.8,249.5 556.8,235 568.9,220.5 576.9,206 580.9,191.5 584.9,177 588.9,162.5 593,148 593,133.5 597,119 597,104.5 601,90 601,80.5"/>
<polyline points="95.1,365.5 171.4,351 191.4,336.5 199.5,322 207.5,307.5 215.5,293 219.5,278.5 227.6,264 235.6,249.5 239.6,235 247.7,220.5 251.7,206 255.7,191.5 263.7,177 267.7,162.5 271.7,148 279.8,133.5 283.8,119 291.8,104.5 295.8,90 299.8,80.5"/>
<polyline points="179.4,365.5 360.1,351 440.4,336.5 484.5,322 516.7,307.5 544.8,293 564.8,278.5 580.9,264 588.9,249.5 597,235 601,220.5 601,206 601,191.5 605,177 605,162.5 605,148 605,133.5 605,119 605,104.5 605,90 605,80.5"/>
<polyline points="123.2,365.5 159.3,351 183.4,336.5 211.5,322 227.6,307.5 247.7,293 259.7,278.5 283.8,264 295.8,249.5 307.9,235 328,220.5 348,206 356.1,191.5 376.1,177 388.2,162.5 404.2,148 420.3,133.5 436.4,119 448.4,104.5 468.5,90 476.5,80.5"/>
<polyline points="91.1,365.5 99.1,351 111.1,336.5 119.2,322 131.2,307.5 135.2,293 147.3,278.5 159.3,264 171.4,249.5 183.4,235 195.5,220.5 207.5,206 219.5,191.5 231.6,177 243.6,162.5 255.7,148 259.7,133.5 267.7,119 275.8,104.5 283.8,90 287.8,80.5"/>
<polyline points="243.6,365.5 299.8,351 336,336.5 368.1,322 392.2,307.5 412.3,293 432.3,278.5 448.4,264 468.5,249.5 480.5,235 496.6,220.5 512.7,206 528.7,191.5 544.8,177 556.8,162.5 568.9,148 576.9,133.5 584.9,119 588.9,104.5 593,90 593,80.5"/>
<polyline points="159.3,365.5 279.8,351 319.9,336.5 340,322 360.1,307.5 376.1,293 392.2,278.5 404.2,264 416.3,249.5 432.3,235 448.4,220.5 460.5,206 476.5,191.5 492.6,177 508.6,162.5 524.7,148 536.7,133.5 548.8,119 556.8,104.5 568.9,90 572.9,80.5"/>
<polyline points="231.6,365.5 275.8,351 299.8,336.5 311.9,322 323.9,307.5 328,293 336,278.5 340,264 344,249.5 348,235 352,220.5 356.1,206 360.1,191.5 364.1,177 368.1,162.5 372.1,148 376.1,133.5 380.2,119 384.2,104.5 392.2,90 400.2,80.5"/>
<polyline points="215.5,365.5 303.9,351 332,336.5 344,322 348,307.5 352,293 356.1,278.5 360.1,264 364.1,249.5 368.1,235 372.1,220.5 376.1,206 380.2,191.5 384.2,177 388.2,162.5 392.2,148 396.2,133.5 404.2,119 408.3,104.5 412.3,90 416.3,80.5"/>
<polyline points="155.3,365.5 263.7,351 328,336.5 368.1,322 404.2,307.5 456.4,293 528.7,278.5 564.8,264 576.9,249.5 580.9,235 584.9,220.5 588.9,206 593,191.5 593,177 593,162.5 597,148 597,133.5 597,119 597,104.5 601,90 601,80.5"/>
<polyline points="171.4,365.5 340,351 380.2,336.5 392.2,322 400.2,307.5 404.2,293 412.3,278.5 416.3,264 420.3,249.5 424.3,235 428.3,220.5 432.3,206 436.4,191.5 444.4,177 448.4,162.5 456.4,148 468.5,133.5 480.5,119 492.6,104.5 508.6,90 520.7,80.5"/>
<polyline points="183.4,365.5 195.5,351 199.5,336.5 203.5,322 207.5,307.5 211.5,293 215.5,278.5 219.5,264 219.5,249.5 223.6,235 227.6,220.5 231.6,206 235.6,191.5 235.6,177 239.6,162.5 243.6,148 247.7,133.5 247.7,119 251.7,104.5 255.7,90 259.7,80.5"/>
<polyline points="107.1,365.5 179.4,351 207.5,336.5 223.6,322 235.6,307.5 243.6,293 255.7,278.5 263.7,264 271.7,249.5 279.8,235 287.8,220.5 295.8,206 303.9,191.5 311.9,177 315.9,162.5 319.9,148 328,133.5 332,119 336,104.5 340,90 348,80.5"/>
<polyline points="99.1,365.5 380.2,351 428.3,336.5 468.5,322 520.7,307.5 560.8,293 572.9,278.5 580.9,264 584.9,249.5 588.9,235 593,220.5 593,206 597,191.5 597,177 601,162.5 601,148 601,133.5 601,119 601,104.5 601,90 601,80.5"/>
<polyline points="175.4,365.5 332,351 408.3,336.5 448.4,322 468.5,307.5 480.5,293 492.6,278.5 504.6,264 520.7,249.5 532.7,235 548.8,220.5 560.8,206 572.9,191.5 580.9,177 588.9,162.5 593,148 597,133.5 597,119 597,104.5 597,90 597,80.5"/>
<polyline points="167.3,365.5 203.5,351 235.6,336.5 267.7,322 295.8,307.5 319.9,293 344,278.5 372.1,264 392.2,249.5 412.3,235 432.3,220.5 448.4,206 464.5,191.5 476.5,177 488.6,162.5 500.6,148 508.6,133.5 516.7,119 520.7,104.5 528.7,90 532.7,80.5"/>
<polyline points="143.3,365.5 203.5,351 255.7,336.5 303.9,322 344,307.5 380.2,293 400.2,278.5 436.4,264 460.5,249.5 480.5,235 500.6,220.5 516.7,206 524.7,191.5 536.7,177 540.8,162.5 548.8,148 552.8,133.5 556.8,119 560.8,104.5 560.8,90 560.8,80.5"/>
<polyline points="111.1,365.5 131.2,351 147.3,336.5 163.3,322 179.4,307.5 191.4,293 203.5,278.5 215.5,264 231.6,249.5 251.7,235 263.7,220.5 275.8,206 291.8,191.5 307.9,177 319.9,162.5 332,148 348,133.5 352,119 368.1,104.5 376.1,90 388.2,80.5"/>
<polyline points="95.1,365.5 107.1,351 119.2,336.5 131.2,322 143.3,307.5 155.3,293 167.3,278.5 179.4,264 191.4,249.5 203.5,235 219.5,220.5 239.6,206 247.7,191.5 259.7,177 279.8,162.5 295.8,148 311.9,133.5 328,119 340,104.5 356.1,90 376.1,80.5"/>
<polyline points="207.5,365.5 332,351 404.2,336.5 452.4,322 480.5,307.5 504.6,293 516.7,278.5 528.7,264 536.7,249.5 544.8,235 552.8,220.5 556.8,206 564.8,191.5 576.9,177 584.9,162.5 593,148 597,133.5 597,119 601,104.5 601,90 601,80.5"/>
<polyline points="167.3,365.5 223.6,351 267.7,336.5 303.9,322 336,307.5 364.1,293 388.2,278.5 408.3,264 428.3,249.5 448.4,235 464.5,220.5 476.5,206 488.6,191.5 500.6,177 512.7,162.5 520.7,148 528.7,133.5 540.8,119 544.8,104.5 556.8,90 560.8,80.5"/>
<polyline points="175.4,365.5 259.7,351 311.9,336.5 360.1,322 408.3,307.5 424.3,293 452.4,278.5 476.5,264 492.6,249.5 512.7,235 528.7,220.5 544.8,206 548.8,191.5 560.8,177 568.9,162.5 572.9,148 576.9,133.5 580.9,119 584.9,104.5 588.9,90 593,80.5"/>
<polyline points="131.2,365.5 175.4,351 199.5,336.5 223.6,322 243.6,307.5 251.7,293 275.8,278.5 291.8,264 307.9,249.5 323.9,235 344,220.5 364.1,206 384.2,191.5 400.2,177 412.3,162.5 432.3,148 448.4,133.5 460.5,119 480.5,104.5 492.6,90 504.6,80.5"/>
<polyline points="131.2,365.5 151.3,351 159.3,336.5 167.3,322 171.4,307.5 171.4,293 171.4,278.5 175.4,264 175.4,249.5 183.4,235 187.4,220.5 191.4,206 195.5,191.5 199.5,177 207.5,162.5 211.5,148 215.5,133.5 215.5,119 215.5,104.5 215.5,90 219.5,80.5"/>
<polyline points="135.2,365.5 283.8,351 372.1,336.5 432.3,322 480.5,307.5 516.7,293 540.8,278.5 552.8,264 560.8,249.5 564.8,235 568.9,220.5 568.9,206 572.9,191.5 576.9,177 576.9,162.5 580.9,148 580.9,133.5 584.9,119 584.9,104.5 584.9,90 588.9,80.5"/>
<polyline points="99.1,365.5 115.2,351 127.2,336.5 139.2,322 151.3,307.5 163.3,293 175.4,278.5 183.4,264 195.5,249.5 203.5,235 211.5,220.5 223.6,206 231.6,191.5 239.6,177 247.7,162.5 259.7,148 267.7,133.5 279.8,119 291.8,104.5 303.9,90 307.9,80.5"/>
<polyline points="147.3,365.5 195.5,351 231.6,336.5 259.7,322 287.8,307.5 303.9,293 315.9,278.5 323.9,264 348,249.5 368.1,235 388.2,220.5 404.2,206 424.3,191.5 440.4,177 452.4,162.5 468.5,148 484.5,133.5 492.6,119 508.6,104.5 524.7,90 528.7,80.5"/>
<polyline points="107.1,365.5 255.7,351 319.9,336.5 356.1,322 380.2,307.5 400.2,293 416.3,278.5 432.3,264 444.4,249.5 460.5,235 472.5,220.5 480.5,206 492.6,191.5 500.6,177 512.7,162.5 520.7,148 528.7,133.5 536.7,119 544.8,104.5 548.8,90 552.8,80.5"/>
<polyline points="231.6,365.5 340,351 396.2,336.5 424.3,322 440.4,307.5 452.4,293 464.5,278.5 476.5,264 488.6,249.5 504.6,235 520.7,220.5 536.7,206 552.8,191.5 564.8,177 576.9,162.5 588.9,148 593,133.5 597,119 601,104.5 601,90 601,80.5"/>
<polyline points="95.1,365.5 115.2,351 123.2,336.5 127.2,322 135.2,307.5 139.2,293 143.3,278.5 151.3,264 155.3,249.5 159.3,235 167.3,220.5 179.4,206 191.4,191.5 207.5,177 227.6,162.5 243.6,148 255.7,133.5 263.7,119 271.7,104.5 275.8,90 279.8,80.5"/>
<polyline points="95.1,365.5 287.8,351 376.1,336.5 416.3,322 436.4,307.5 444.4,293 448.4,278.5 452.4,264 452.4,249.5 456.4,235 460.5,220.5 464.5,206 468.5,191.5 480.5,177 492.6,162.5 508.6,148 524.7,133.5 540.8,119 556.8,104.5 568.9,90 576.9,80.5"/>
<polyline points="91.1,365.5 123.2,351 147.3,336.5 171.4,322 191.4,307.5 219.5,293 243.6,278.5 271.7,264 291.8,249.5 311.9,235 323.9,220.5 336,206 348,191.5 352,177 360.1,162.5 368.1,148 376.1,133.5 380.2,119 388.2,104.5 392.2,90 396.2,80.5"/>
<polyline points="91.1,365.5 332,351 368.1,336.5 380.2,322 384.2,307.5 392.2,293 400.2,278.5 404.2,264 408.3,249.5 412.3,235 416.3,220.5 420.3,206 424.3,191.5 428.3,177 432.3,162.5 440.4,148 444.4,133.5 452.4,119 464.5,104.5 480.5,90 492.6,80.5"/>
<polyline points="95.1,365.5 323.9,351 440.4,336.5 500.6,322 532.7,307.5 556.8,293 568.9,278.5 576.9,264 584.9,249.5 588.9,235 588.9,220.5 593,206 593,191.5 593,177 597,162.5 597,148 597,133.5 597,119 597,104.5 597,90 597,80.5"/>
<polyline points="115.2,365.5 139.2,351 151.3,336.5 163.3,322 175.4,307.5 187.4,293 195.5,278.5 207.5,264 219.5,249.5 231.6,235 243.6,220.5 251.7,206 263.7,191.5 271.7,177 279.8,162.5 287.8,148 295.8,133.5 299.8,119 307.9,104.5 315.9,90 319.9,80.5"/>
<polyline points="147.3,365.5 251.7,351 319.9,336.5 364.1,322 396.2,307.5 416.3,293 432.3,278.5 444.4,264 456.4,249.5 472.5,235 488.6,220.5 508.6,206 528.7,191.5 548.8,177 564.8,162.5 580.9,148 588.9,133.5 597,119 601,104.5 601,90 601,80.5"/>
<polyline points="107.1,365.5 127.2,351 147.3,336.5 163.3,322 179.4,307.5 199.5,293 215.5,278.5 227.6,264 247.7,249.5 263.7,235 283.8,220.5 303.9,206 319.9,191.5 328,177 340,162.5 352,148 360.1,133.5 368.1,119 376.1,104.5 380.2,90 384.2,80.5"/>
<polyline points="195.5,365.5 283.8,351 328,336.5 352,322 364.1,307.5 376.1,293 388.2,278.5 400.2,264 412.3,249.5 432.3,235 452.4,220.5 472.5,206 492.6,191.5 512.7,177 532.7,162.5 544.8,148 556.8,133.5 564.8,119 568.9,104.5 572.9,90 572.9,80.5"/>
<polyline points="135.2,365.5 263.7,351 352,336.5 416.3,322 468.5,307.5 504.6,293 528.7,278.5 548.8,264 560.8,249.5 572.9,235 580.9,220.5 584.9,206 588.9,191.5 593,177 597,162.5 597,148 601,133.5 601,119 601,104.5 601,90 601,80.5"/>
<polyline points="191.4,365.5 235.6,351 255.7,336.5 267.7,322 275.8,307.5 283.8,293 299.8,278.5 336,264 372.1,249.5 392.2,235 400.2,220.5 404.2,206 412.3,191.5 416.3,177 420.3,162.5 428.3,148 432.3,133.5 436.4,119 440.4,104.5 444.4,90 448.4,80.5"/>
<polyline points="151.3,365.5 163.3,351 167.3,336.5 175.4,322 183.4,307.5 187.4,293 191.4,278.5 199.5,264 203.5,249.5 207.5,235 211.5,220.5 215.5,206 219.5,191.5 223.6,177 227.6,162.5 231.6,148 235.6,133.5 239.6,119 243.6,104.5 247.7,90 251.7,80.5"/>
<polyline points="143.3,365.5 303.9,351 332,336.5 348,322 372.1,307.5 408.3,293 456.4,278.5 500.6,264 540.8,249.5 560.8,235 572.9,220.5 580.9,206 584.9,191.5 584.9,177 588.9,162.5 588.9,148 588.9,133.5 593,119 593,104.5 597,90 597,80.5"/>
<polyline points="111.1,365.5 131.2,351 147.3,336.5 159.3,322 175.4,307.5 187.4,293 203.5,278.5 211.5,264 223.6,249.5 239.6,235 255.7,220.5 267.7,206 279.8,191.5 287.8,177 295.8,162.5 315.9,148 323.9,133.5 336,119 340,104.5 352,90 356.1,80.5"/>
<polyline points="219.5,365.5 311.9,351 352,336.5 372.1,322 384.2,307.5 396.2,293 408.3,278.5 424.3,264 440.4,249.5 456.4,235 476.5,220.5 496.6,206 516.7,191.5 536.7,177 548.8,162.5 560.8,148 568.9,133.5 576.9,119 580.9,104.5 584.9,90 584.9,80.5"/>
<polyline points="131.2,365.5 275.8,351 356.1,336.5 404.2,322 432.3,307.5 448.4,293 464.5,278.5 472.5,264 484.5,249.5 496.6,235 512.7,220.5 528.7,206 548.8,191.5 564.8,177 576.9,162.5 588.9,148 597,133.5 601,119 601,104.5 605,90 605,80.5"/>
<polyline points="239.6,365.5 291.8,351 315.9,336.5 328,322 336,307.5 340,293 344,278.5 348,264 356.1,249.5 360.1,235 364.1,220.5 368.1,206 376.1,191.5 380.2,177 388.2,162.5 396.2,148 400.2,133.5 408.3,119 412.3,104.5 420.3,90 424.3,80.5"/>
<polyline points="91.1,365.5 99.1,351 103.1,336.5 115.2,322 119.2,307.5 127.2,293 135.2,278.5 143.3,264 155.3,249.5 163.3,235 175.4,220.5 183.4,206 191.4,191.5 199.5,177 211.5,162.5 215.5,148 223.6,133.5 227.6,119 235.6,104.5 235.6,90 239.6,80.5"/>
<polyline points="103.1,365.5 119.2,351 131.2,336.5 143.3,322 151.3,307.5 159.3,293 167.3,278.5 175.4,264 187.4,249.5 195.5,235 211.5,220.5 215.5,206 227.6,191.5 239.6,177 247.7,162.5 259.7,148 267.7,133.5 271.7,119 275.8,104.5 279.8,90 287.8,80.5"/>
<polyline points="231.6,365.5 344,351 408.3,336.5 448.4,322 472.5,307.5 484.5,293 492.6,278.5 496.6,264 500.6,249.5 504.6,235 508.6,220.5 512.7,206 520.7,191.5 528.7,177 540.8,162.5 556.8,148 568.9,133.5 580.9,119 588.9,104.5 597,90 601,80.5"/>
<polyline points="239.6,365.5 364.1,351 400.2,336.5 416.3,322 420.3,307.5 428.3,293 432.3,278.5 436.4,264 440.4,249.5 444.4,235 448.4,220.5 452.4,206 456.4,191.5 464.5,177 472.5,162.5 484.5,148 496.6,133.5 508.6,119 524.7,104.5 536.7,90 544.8,80.5"/>
<polyline points="255.7,365.5 271.7,351 279.8,336.5 287.8,322 295.8,307.5 303.9,293 307.9,278.5 311.9,264 319.9,249.5 323.9,235 328,220.5 332,206 336,191.5 340,177 344,162.5 348,148 352,133.5 356.1,119 360.1,104.5 372.1,90 380.2,80.5"/>
<polyline points="163.3,365.5 259.7,351 328,336.5 376.1,322 420.3,307.5 464.5,293 508.6,278.5 548.8,264 576.9,249.5 588.9,235 597,220.5 601,206 605,191.5 605,177 605,162.5 605,148 605,133.5 605,119 605,104.5 605,90 605,80.5"/>
<polyline points="175.4,365.5 323.9,351 412.3,336.5 468.5,322 504.6,307.5 528.7,293 548.8,278.5 564.8,264 576.9,249.5 584.9,235 593,220.5 597,206 601,191.5 601,177 601,162.5 605,148 605,133.5 605,119 605,104.5 605,90 605,80.5"/>
<polyline points="223.6,365.5 384.2,351 420.3,336.5 432.3,322 444.4,307.5 452.4,293 460.5,278.5 468.5,264 476.5,249.5 488.6,235 504.6,220.5 516.7,206 532.7,191.5 548.8,177 560.8,162.5 572.9,148 580.9,133.5 588.9,119 597,104.5 597,90 601,80.5"/>
<polyline points="91.1,365.5 287.8,351 340,336.5 352,322 360.1,307.5 364.1,293 372.1,278.5 376.1,264 380.2,249.5 384.2,235 388.2,220.5 392.2,206 396.2,191.5 400.2,177 404.2,162.5 412.3,148 420.3,133.5 428.3,119 436.4,104.5 452.4,90 460.5,80.5"/>
<polyline points="111.1,365.5 139.2,351 159.3,336.5 183.4,322 199.5,307.5 211.5,293 219.5,278.5 235.6,264 247.7,249.5 267.7,235 271.7,220.5 291.8,206 295.8,191.5 307.9,177 319.9,162.5 332,148 340,133.5 348,119 356.1,104.5 364.1,90 372.1,80.5"/>
<polyline points="131.2,365.5 279.8,351 364.1,336.5 416.3,322 444.4,307.5 464.5,293 480.5,278.5 492.6,264 508.6,249.5 528.7,235 548.8,220.5 568.9,206 584.9,191.5 593,177 601,162.5 601,148 605,133.5 605,119 605,104.5 605,90 605,80.5"/>
<polyline points="243.6,365.5 271.7,351 299.8,336.5 323.9,322 344,307.5 360.1,293 372.1,278.5 388.2,264 400.2,249.5 412.3,235 420.3,220.5 432.3,206 444.4,191.5 456.4,177 468.5,162.5 488.6,148 508.6,133.5 524.7,119 544.8,104.5 556.8,90 564.8,80.5"/>
<polyline points="207.5,365.5 267.7,351 311.9,336.5 344,322 368.1,307.5 392.2,293 412.3,278.5 432.3,264 452.4,249.5 468.5,235 484.5,220.5 500.6,206 512.7,191.5 524.7,177 532.7,162.5 540.8,148 544.8,133.5 552.8,119 556.8,104.5 560.8,90 564.8,80.5"/>
<polyline points="99.1,365.5 111.1,351 127.2,336.5 139.2,322 151.3,307.5 163.3,293 175.4,278.5 187.4,264 203.5,249.5 219.5,235 235.6,220.5 247.7,206 267.7,191.5 279.8,177 295.8,162.5 307.9,148 323.9,133.5 336,119 340,104.5 356.1,90 360.1,80.5"/>
<polyline points="103.1,365.5 155.3,351 187.4,336.5 207.5,322 223.6,307.5 231.6,293 243.6,278.5 251.7,264 259.7,249.5 263.7,235 271.7,220.5 275.8,206 283.8,191.5 287.8,177 291.8,162.5 299.8,148 303.9,133.5 307.9,119 315.9,104.5 319.9,90 323.9,80.5"/>
<polyline points="95.1,365.5 155.3,351 187.4,336.5 207.5,322 223.6,307.5 239.6,293 255.7,278.5 267.7,264 283.8,249.5 295.8,235 307.9,220.5 319.9,206 332,191.5 344,177 356.1,162.5 368.1,148 376.1,133.5 388.2,119 400.2,104.5 408.3,90 412.3,80.5"/>
<polyline points="131.2,365.5 283.8,351 352,336.5 388.2,322 412.3,307.5 440.4,293 468.5,278.5 496.6,264 520.7,249.5 540.8,235 548.8,220.5 556.8,206 560.8,191.5 568.9,177 572.9,162.5 572.9,148 576.9,133.5 580.9,119 580.9,104.5 584.9,90 584.9,80.5"/>
<polyline points="175.4,365.5 311.9,351 352,336.5 376.1,322 400.2,307.5 420.3,293 440.4,278.5 464.5,264 488.6,249.5 508.6,235 528.7,220.5 540.8,206 552.8,191.5 560.8,177 564.8,162.5 572.9,148 572.9,133.5 576.9,119 580.9,104.5 584.9,90 584.9,80.5"/>
<polyline points="143.3,365.5 163.3,351 175.4,336.5 187.4,322 191.4,307.5 199.5,293 203.5,278.5 207.5,264 211.5,249.5 215.5,235 219.5,220.5 223.6,206 227.6,191.5 231.6,177 231.6,162.5 235.6,148 239.6,133.5 243.6,119 255.7,104.5 271.7,90 283.8,80.5"/>
<polyline points="223.6,365.5 352,351 416.3,336.5 476.5,322 516.7,307.5 540.8,293 552.8,278.5 572.9,264 576.9,249.5 584.9,235 593,220.5 601,206 601,191.5 601,177 601,162.5 601,148 601,133.5 605,119 605,104.5 605,90 605,80.5"/>
<polyline points="191.4,365.5 275.8,351 323.9,336.5 352,322 364.1,307.5 376.1,293 384.2,278.5 388.2,264 396.2,249.5 400.2,235 404.2,220.5 408.3,206 412.3,191.5 416.3,177 420.3,162.5 424.3,148 428.3,133.5 432.3,119 440.4,104.5 444.4,90 448.4,80.5"/>
<polyline points="207.5,365.5 295.8,351 352,336.5 392.2,322 424.3,307.5 452.4,293 484.5,278.5 516.7,264 544.8,249.5 568.9,235 580.9,220.5 588.9,206 593,191.5 597,177 597,162.5 601,148 601,133.5 601,119 601,104.5 601,90 605,80.5"/>
<polyline points="99.1,365.5 255.7,351 328,336.5 368.1,322 388.2,307.5 404.2,293 412.3,278.5 420.3,264 428.3,249.5 432.3,235 440.4,220.5 444.4,206 448.4,191.5 452.4,177 460.5,162.5 464.5,148 468.5,133.5 472.5,119 476.5,104.5 480.5,90 484.5,80.5"/>
<polyline points="95.1,365.5 247.7,351 336,336.5 384.2,322 416.3,307.5 432.3,293 444.4,278.5 456.4,264 464.5,249.5 480.5,235 496.6,220.5 516.7,206 536.7,191.5 560.8,177 576.9,162.5 584.9,148 593,133.5 601,119 601,104.5 601,90 601,80.5"/>
<polyline points="91.1,365.5 99.1,351 107.1,336.5 111.1,322 119.2,307.5 127.2,293 131.2,278.5 139.2,264 147.3,249.5 155.3,235 163.3,220.5 171.4,206 179.4,191.5 187.4,177 195.5,162.5 199.5,148 207.5,133.5 211.5,119 211.5,104.5 211.5,90 215.5,80.5"/>
<polyline points="167.3,365.5 283.8,351 340,336.5 388.2,322 440.4,307.5 488.6,293 528.7,278.5 556.8,264 576.9,249.5 584.9,235 588.9,220.5 593,206 593,191.5 597,177 597,162.5 597,148 601,133.5 601,119 601,104.5 601,90 601,80.5"/>
<polyline points="171.4,365.5 223.6,351 259.7,336.5 283.8,322 299.8,307.5 311.9,293 319.9,278.5 328,264 336,249.5 340,235 348,220.5 352,206 356.1,191.5 364.1,177 368.1,162.5 372.1,148 380.2,133.5 388.2,119 400.2,104.5 412.3,90 416.3,80.5"/>
<polyline points="155.3,365.5 215.5,351 243.6,336.5 259.7,322 267.7,307.5 275.8,293 279.8,278.5 283.8,264 287.8,249.5 295.8,235 299.8,220.5 303.9,206 307.9,191.5 311.9,177 315.9,162.5 319.9,148 323.9,133.5 328,119 332,104.5 336,90 340,80.5"/>
<polyline points="179.4,365.5 259.7,351 303.9,336.5 336,322 372.1,307.5 380.2,293 396.2,278.5 408.3,264 424.3,249.5 436.4,235 448.4,220.5 460.5,206 468.5,191.5 480.5,177 492.6,162.5 500.6,148 508.6,133.5 520.7,119 524.7,104.5 532.7,90 540.8,80.5"/>
<polyline points="147.3,365.5 279.8,351 360.1,336.5 408.3,322 444.4,307.5 468.5,293 488.6,278.5 504.6,264 516.7,249.5 524.7,235 528.7,220.5 536.7,206 540.8,191.5 544.8,177 548.8,162.5 548.8,148 548.8,133.5 552.8,119 556.8,104.5 560.8,90 568.9,80.5"/>
<polyline points="111.1,365.5 131.2,351 147.3,336.5 159.3,322 171.4,307.5 183.4,293 191.4,278.5 203.5,264 211.5,249.5 219.5,235 231.6,220.5 239.6,206 255.7,191.5 259.7,177 275.8,162.5 283.8,148 291.8,133.5 299.8,119 303.9,104.5 315.9,90 319.9,80.5"/>
<polyline points="99.1,365.5 323.9,351 408.3,336.5 452.4,322 476.5,307.5 496.6,293 512.7,278.5 524.7,264 532.7,249.5 540.8,235 548.8,220.5 552.8,206 556.8,191.5 564.8,177 568.9,162.5 576.9,148 584.9,133.5 593,119 601,104.5 601,90 601,80.5"/>
<polyline points="175.4,365.5 340,351 428.3,336.5 480.5,322 520.7,307.5 552.8,293 568.9,278.5 572.9,264 580.9,249.5 584.9,235 584.9,220.5 588.9,206 593,191.5 593,177 593,162.5 597,148 597,133.5 597,119 597,104.5 597,90 601,80.5"/>
<polyline points="95.1,365.5 287.8,351 344,336.5 372.1,322 392.2,307.5 408.3,293 424.3,278.5 440.4,264 452.4,249.5 464.5,235 472.5,220.5 484.5,206 492.6,191.5 500.6,177 508.6,162.5 516.7,148 520.7,133.5 528.7,119 532.7,104.5 540.8,90 540.8,80.5"/>
<polyline points="155.3,365.5 215.5,351 255.7,336.5 291.8,322 315.9,307.5 336,293 352,278.5 368.1,264 388.2,249.5 408.3,235 420.3,220.5 436.4,206 448.4,191.5 460.5,177 476.5,162.5 488.6,148 496.6,133.5 508.6,119 516.7,104.5 524.7,90 528.7,80.5"/>
<polyline points="199.5,365.5 283.8,351 336,336.5 364.1,322 384.2,307.5 404.2,293 432.3,278.5 480.5,264 520.7,249.5 536.7,235 540.8,220.5 544.8,206 548.8,191.5 548.8,177 552.8,162.5 552.8,148 556.8,133.5 556.8,119 560.8,104.5 560.8,90 560.8,80.5"/>
<polyline points="151.3,365.5 211.5,351 255.7,336.5 299.8,322 336,307.5 368.1,293 392.2,278.5 420.3,264 448.4,249.5 468.5,235 488.6,220.5 504.6,206 520.7,191.5 532.7,177 540.8,162.5 548.8,148 556.8,133.5 560.8,119 564.8,104.5 568.9,90 572.9,80.5"/>
<polyline points="95.1,365.5 103.1,351 115.2,336.5 123.2,322 135.2,307.5 139.2,293 147.3,278.5 155.3,264 163.3,249.5 175.4,235 187.4,220.5 195.5,206 203.5,191.5 211.5,177 219.5,162.5 227.6,148 235.6,133.5 239.6,119 243.6,104.5 243.6,90 247.7,80.5"/>
<polyline points="131.2,365.5 348,351 400.2,336.5 424.3,322 456.4,307.5 524.7,293 552.8,278.5 560.8,264 568.9,249.5 576.9,235 580.9,220.5 584.9,206 588.9,191.5 593,177 593,162.5 597,148 597,133.5 597,119 601,104.5 601,90 601,80.5"/>
<polyline points="103.1,365.5 123.2,351 135.2,336.5 151.3,322 163.3,307.5 175.4,293 187.4,278.5 199.5,264 219.5,249.5 227.6,235 243.6,220.5 255.7,206 271.7,191.5 287.8,177 303.9,162.5 315.9,148 328,133.5 340,119 360.1,104.5 368.1,90 372.1,80.5"/>
<polyline points="151.3,365.5 243.6,351 291.8,336.5 323.9,322 348,307.5 372.1,293 392.2,278.5 412.3,264 428.3,249.5 440.4,235 456.4,220.5 464.5,206 476.5,191.5 484.5,177 492.6,162.5 500.6,148 504.6,133.5 512.7,119 516.7,104.5 524.7,90 532.7,80.5"/>
<polyline points="195.5,365.5 259.7,351 303.9,336.5 328,322 348,307.5 364.1,293 376.1,278.5 384.2,264 392.2,249.5 396.2,235 400.2,220.5 408.3,206 412.3,191.5 416.3,177 420.3,162.5 424.3,148 432.3,133.5 436.4,119 448.4,104.5 460.5,90 472.5,80.5"/>
<polyline points="111.1,365.5 131.2,351 139.2,336.5 143.3,322 147.3,307.5 151.3,293 155.3,278.5 159.3,264 163.3,249.5 171.4,235 175.4,220.5 183.4,206 187.4,191.5 191.4,177 199.5,162.5 203.5,148 207.5,133.5 211.5,119 211.5,104.5 211.5,90 211.5,80.5"/>
<polyline points="135.2,365.5 199.5,351 259.7,336.5 315.9,322 364.1,307.5 408.3,293 448.4,278.5 480.5,264 504.6,249.5 524.7,235 540.8,220.5 548.8,206 556.8,191.5 564.8,177 572.9,162.5 576.9,148 580.9,133.5 584.9,119 588.9,104.5 588.9,90 588.9,80.5"/>
<polyline points="103.1,365.5 271.7,351 388.2,336.5 476.5,322 532.7,307.5 560.8,293 568.9,278.5 576.9,264 580.9,249.5 584.9,235 588.9,220.5 588.9,206 593,191.5 593,177 597,162.5 597,148 597,133.5 597,119 601,104.5 601,90 601,80.5"/>
<polyline points="111.1,365.5 135.2,351 155.3,336.5 175.4,322 191.4,307.5 207.5,293 219.5,278.5 235.6,264 255.7,249.5 271.7,235 291.8,220.5 307.9,206 319.9,191.5 332,177 344,162.5 356.1,148 368.1,133.5 376.1,119 380.2,104.5 388.2,90 392.2,80.5"/>
<polyline points="179.4,365.5 299.8,351 348,336.5 376.1,322 400.2,307.5 420.3,293 436.4,278.5 452.4,264 464.5,249.5 476.5,235 488.6,220.5 496.6,206 508.6,191.5 516.7,177 520.7,162.5 528.7,148 536.7,133.5 540.8,119 548.8,104.5 552.8,90 560.8,80.5"/>
<polyline points="243.6,365.5 340,351 392.2,336.5 420.3,322 436.4,307.5 448.4,293 460.5,278.5 468.5,264 484.5,249.5 500.6,235 520.7,220.5 540.8,206 560.8,191.5 576.9,177 588.9,162.5 593,148 597,133.5 601,119 601,104.5 601,90 601,80.5"/>
<polyline points="199.5,365.5 311.9,351 376.1,336.5 416.3,322 444.4,307.5 468.5,293 492.6,278.5 512.7,264 532.7,249.5 552.8,235 568.9,220.5 580.9,206 588.9,191.5 597,177 597,162.5 601,148 601,133.5 601,119 605,104.5 605,90 605,80.5"/>
<polyline points="235.6,365.5 275.8,351 291.8,336.5 303.9,322 307.9,307.5 311.9,293 319.9,278.5 323.9,264 328,249.5 332,235 336,220.5 340,206 344,191.5 348,177 352,162.5 356.1,148 360.1,133.5 364.1,119 368.1,104.5 372.1,90 376.1,80.5"/>
<polyline points="227.6,365.5 251.7,351 267.7,336.5 279.8,322 291.8,307.5 295.8,293 307.9,278.5 311.9,264 315.9,249.5 323.9,235 328,220.5 332,206 336,191.5 340,177 344,162.5 348,148 352,133.5 356.1,119 360.1,104.5 364.1,90 368.1,80.5"/>
<polyline points="147.3,365.5 279.8,351 356.1,336.5 396.2,322 424.3,307.5 440.4,293 452.4,278.5 460.5,264 464.5,249.5 472.5,235 476.5,220.5 488.6,206 496.6,191.5 508.6,177 524.7,162.5 540.8,148 552.8,133.5 564.8,119 576.9,104.5 584.9,90 593,80.5"/>
<polyline points="95.1,365.5 103.1,351 111.1,336.5 119.2,322 127.2,307.5 139.2,293 147.3,278.5 159.3,264 171.4,249.5 187.4,235 199.5,220.5 215.5,206 231.6,191.5 247.7,177 263.7,162.5 279.8,148 295.8,133.5 311.9,119 315.9,104.5 336,90 340,80.5"/>
<polyline points="95.1,365.5 103.1,351 103.1,336.5 115.2,322 123.2,307.5 131.2,293 135.2,278.5 143.3,264 151.3,249.5 159.3,235 171.4,220.5 175.4,206 187.4,191.5 195.5,177 203.5,162.5 207.5,148 215.5,133.5 219.5,119 219.5,104.5 219.5,90 223.6,80.5"/>
<polyline points="167.3,365.5 239.6,351 279.8,336.5 315.9,322 344,307.5 364.1,293 372.1,278.5 392.2,264 412.3,249.5 420.3,235 436.4,220.5 456.4,206 464.5,191.5 484.5,177 492.6,162.5 508.6,148 516.7,133.5 524.7,119 536.7,104.5 544.8,90 552.8,80.5"/>
<polyline points="115.2,365.5 159.3,351 191.4,336.5 215.5,322 231.6,307.5 247.7,293 263.7,278.5 271.7,264 283.8,249.5 291.8,235 299.8,220.5 307.9,206 315.9,191.5 319.9,177 323.9,162.5 328,148 332,133.5 336,119 340,104.5 344,90 352,80.5"/>
<polyline points="119.2,365.5 271.7,351 319.9,336.5 336,322 344,307.5 352,293 360.1,278.5 364.1,264 368.1,249.5 376.1,235 380.2,220.5 384.2,206 392.2,191.5 396.2,177 404.2,162.5 412.3,148 420.3,133.5 428.3,119 436.4,104.5 440.4,90 444.4,80.5"/>
<polyline points="91.1,365.5 99.1,351 107.1,336.5 119.2,322 127.2,307.5 135.2,293 143.3,278.5 151.3,264 159.3,249.5 171.4,235 183.4,220.5 191.4,206 199.5,191.5 211.5,177 223.6,162.5 227.6,148 243.6,133.5 243.6,119 243.6,104.5 251.7,90 255.7,80.5"/>
<polyline points="95.1,365.5 348,351 420.3,336.5 452.4,322 480.5,307.5 512.7,293 536.7,278.5 560.8,264 576.9,249.5 588.9,235 593,220.5 597,206 597,191.5 601,177 601,162.5 601,148 601,133.5 601,119 601,104.5 601,90 601,80.5"/>
<polyline points="111.1,365.5 127.2,351 143.3,336.5 155.3,322 171.4,307.5 183.4,293 195.5,278.5 203.5,264 211.5,249.5 223.6,235 231.6,220.5 239.6,206 247.7,191.5 255.7,177 263.7,162.5 267.7,148 275.8,133.5 279.8,119 287.8,104.5 295.8,90 311.9,80.5"/>
<polyline points="219.5,365.5 344,351 368.1,336.5 380.2,322 396.2,307.5 412.3,293 432.3,278.5 452.4,264 476.5,249.5 496.6,235 512.7,220.5 524.7,206 536.7,191.5 544.8,177 552.8,162.5 552.8,148 560.8,133.5 560.8,119 564.8,104.5 568.9,90 568.9,80.5"/>
<polyline points="175.4,365.5 283.8,351 340,336.5 372.1,322 392.2,307.5 404.2,293 416.3,278.5 424.3,264 436.4,249.5 448.4,235 460.5,220.5 472.5,206 488.6,191.5 500.6,177 512.7,162.5 524.7,148 532.7,133.5 536.7,119 540.8,104.5 548.8,90 548.8,80.5"/>
<polyline points="219.5,365.5 323.9,351 400.2,336.5 460.5,322 508.6,307.5 544.8,293 572.9,278.5 584.9,264 588.9,249.5 593,235 597,220.5 597,206 597,191.5 597,177 597,162.5 597,148 601,133.5 601,119 601,104.5 601,90 601,80.5"/>
<polyline points="171.4,365.5 263.7,351 332,336.5 380.2,322 420.3,307.5 452.4,293 476.5,278.5 496.6,264 508.6,249.5 520.7,235 528.7,220.5 536.7,206 544.8,191.5 548.8,177 552.8,162.5 552.8,148 560.8,133.5 564.8,119 572.9,104.5 576.9,90 584.9,80.5"/>
<polyline points="187.4,365.5 279.8,351 336,336.5 368.1,322 392.2,307.5 416.3,293 436.4,278.5 456.4,264 476.5,249.5 492.6,235 508.6,220.5 524.7,206 532.7,191.5 544.8,177 552.8,162.5 560.8,148 564.8,133.5 568.9,119 572.9,104.5 576.9,90 576.9,80.5"/>
<polyline points="231.6,365.5 267.7,351 295.8,336.5 319.9,322 336,307.5 352,293 368.1,278.5 380.2,264 388.2,249.5 400.2,235 408.3,220.5 420.3,206 428.3,191.5 436.4,177 440.4,162.5 448.4,148 456.4,133.5 464.5,119 468.5,104.5 472.5,90 476.5,80.5"/>
<polyline points="135.2,365.5 171.4,351 187.4,336.5 207.5,322 211.5,307.5 219.5,293 223.6,278.5 231.6,264 235.6,249.5 247.7,235 259.7,220.5 267.7,206 275.8,191.5 283.8,177 291.8,162.5 303.9,148 315.9,133.5 328,119 336,104.5 340,90 352,80.5"/>
<polyline points="175.4,365.5 247.7,351 291.8,336.5 328,322 352,307.5 372.1,293 384.2,278.5 400.2,264 420.3,249.5 432.3,235 444.4,220.5 464.5,206 476.5,191.5 492.6,177 504.6,162.5 520.7,148 536.7,133.5 548.8,119 556.8,104.5 564.8,90 568.9,80.5"/>
<polyline points="195.5,365.5 295.8,351 352,336.5 416.3,322 452.4,307.5 480.5,293 508.6,278.5 528.7,264 544.8,249.5 560.8,235 572.9,220.5 584.9,206 588.9,191.5 593,177 593,162.5 597,148 597,133.5 597,119 597,104.5 601,90 601,80.5"/>
<polyline points="99.1,365.5 111.1,351 123.2,336.5 131.2,322 139.2,307.5 151.3,293 159.3,278.5 167.3,264 179.4,249.5 187.4,235 199.5,220.5 207.5,206 219.5,191.5 227.6,177 239.6,162.5 247.7,148 259.7,133.5 263.7,119 271.7,104.5 279.8,90 283.8,80.5"/>
<polyline points="155.3,365.5 368.1,351 456.4,336.5 496.6,322 516.7,307.5 528.7,293 532.7,278.5 536.7,264 540.8,249.5 544.8,235 548.8,220.5 552.8,206 556.8,191.5 560.8,177 564.8,162.5 568.9,148 572.9,133.5 576.9,119 580.9,104.5 580.9,90 584.9,80.5"/>
<polyline points="211.5,365.5 287.8,351 336,336.5 364.1,322 380.2,307.5 396.2,293 408.3,278.5 420.3,264 432.3,249.5 444.4,235 456.4,220.5 468.5,206 480.5,191.5 492.6,177 500.6,162.5 508.6,148 516.7,133.5 520.7,119 524.7,104.5 528.7,90 532.7,80.5"/>
<polyline points="115.2,365.5 135.2,351 147.3,336.5 159.3,322 163.3,307.5 167.3,293 171.4,278.5 179.4,264 183.4,249.5 183.4,235 191.4,220.5 195.5,206 203.5,191.5 207.5,177 211.5,162.5 215.5,148 219.5,133.5 219.5,119 219.5,104.5 219.5,90 219.5,80.5"/>
<polyline points="235.6,365.5 259.7,351 275.8,336.5 291.8,322 299.8,307.5 311.9,293 319.9,278.5 323.9,264 332,249.5 340,235 344,220.5 352,206 356.1,191.5 364.1,177 368.1,162.5 372.1,148 376.1,133.5 384.2,119 388.2,104.5 392.2,90 396.2,80.5"/>
<polyline points="139.2,365.5 175.4,351 187.4,336.5 195.5,322 195.5,307.5 195.5,293 195.5,278.5 195.5,264 195.5,249.5 195.5,235 199.5,220.5 203.5,206 203.5,191.5 207.5,177 211.5,162.5 211.5,148 215.5,133.5 215.5,119 219.5,104.5 219.5,90 219.5,80.5"/>
<polyline points="95.1,365.5 107.1,351 111.1,336.5 123.2,322 131.2,307.5 139.2,293 143.3,278.5 151.3,264 159.3,249.5 171.4,235 179.4,220.5 187.4,206 195.5,191.5 203.5,177 207.5,162.5 215.5,148 219.5,133.5 223.6,119 227.6,104.5 227.6,90 227.6,80.5"/>
<polyline points="227.6,365.5 279.8,351 315.9,336.5 344,322 364.1,307.5 376.1,293 388.2,278.5 400.2,264 408.3,249.5 420.3,235 428.3,220.5 444.4,206 460.5,191.5 476.5,177 492.6,162.5 508.6,148 524.7,133.5 540.8,119 548.8,104.5 560.8,90 564.8,80.5"/>
<polyline points="127.2,365.5 271.7,351 356.1,336.5 404.2,322 432.3,307.5 452.4,293 468.5,278.5 480.5,264 488.6,249.5 496.6,235 504.6,220.5 508.6,206 512.7,191.5 516.7,177 520.7,162.5 524.7,148 532.7,133.5 536.7,119 540.8,104.5 548.8,90 556.8,80.5"/>
<polyline points="139.2,365.5 279.8,351 311.9,336.5 328,322 336,307.5 344,293 352,278.5 360.1,264 368.1,249.5 372.1,235 380.2,220.5 384.2,206 392.2,191.5 396.2,177 400.2,162.5 408.3,148 412.3,133.5 420.3,119 428.3,104.5 440.4,90 452.4,80.5"/>
<polyline points="91.1,365.5 99.1,351 107.1,336.5 111.1,322 119.2,307.5 127.2,293 131.2,278.5 139.2,264 147.3,249.5 155.3,235 167.3,220.5 175.4,206 179.4,191.5 187.4,177 195.5,162.5 203.5,148 207.5,133.5 211.5,119 211.5,104.5 215.5,90 215.5,80.5"/>
<polyline points="191.4,365.5 207.5,351 219.5,336.5 231.6,322 239.6,307.5 243.6,293 251.7,278.5 259.7,264 263.7,249.5 271.7,235 275.8,220.5 279.8,206 287.8,191.5 291.8,177 295.8,162.5 299.8,148 303.9,133.5 307.9,119 315.9,104.5 319.9,90 328,80.5"/>
<polyline points="95.1,365.5 107.1,351 115.2,336.5 127.2,322 139.2,307.5 147.3,293 155.3,278.5 163.3,264 175.4,249.5 187.4,235 199.5,220.5 211.5,206 223.6,191.5 227.6,177 239.6,162.5 247.7,148 259.7,133.5 263.7,119 271.7,104.5 279.8,90 283.8,80.5"/>
<polyline points="107.1,365.5 175.4,351 199.5,336.5 211.5,322 227.6,307.5 239.6,293 247.7,278.5 259.7,264 267.7,249.5 275.8,235 279.8,220.5 287.8,206 295.8,191.5 303.9,177 311.9,162.5 315.9,148 323.9,133.5 332,119 336,104.5 344,90 348,80.5"/>
<polyline points="103.1,365.5 115.2,351 123.2,336.5 131.2,322 135.2,307.5 139.2,293 147.3,278.5 151.3,264 159.3,249.5 163.3,235 175.4,220.5 179.4,206 187.4,191.5 195.5,177 199.5,162.5 207.5,148 211.5,133.5 215.5,119 215.5,104.5 215.5,90 219.5,80.5"/>
<polyline points="195.5,365.5 332,351 404.2,336.5 448.4,322 476.5,307.5 496.6,293 512.7,278.5 524.7,264 536.7,249.5 544.8,235 548.8,220.5 556.8,206 560.8,191.5 564.8,177 568.9,162.5 568.9,148 572.9,133.5 576.9,119 584.9,104.5 593,90 597,80.5"/>
<polyline points="227.6,365.5 352,351 412.3,336.5 464.5,322 500.6,307.5 516.7,293 524.7,278.5 540.8,264 548.8,249.5 556.8,235 564.8,220.5 572.9,206 576.9,191.5 576.9,177 580.9,162.5 580.9,148 584.9,133.5 584.9,119 588.9,104.5 588.9,90 593,80.5"/>
<polyline points="91.1,365.5 99.1,351 107.1,336.5 115.2,322 123.2,307.5 131.2,293 135.2,278.5 147.3,264 155.3,249.5 167.3,235 175.4,220.5 183.4,206 191.4,191.5 203.5,177 211.5,162.5 215.5,148 223.6,133.5 227.6,119 231.6,104.5 231.6,90 235.6,80.5"/>
</g>
<polyline points="150,366 232,351.5 250,345.5 266.5,335 299.5,320 310.5,305.5 323,291 341,276.5 363,262 374.5,249.5 383,235.5 396.5,222 410,213 424,204 461,189.5 483,176" fill="none" stroke="#000" stroke-width="1" shape-rendering="crispEdges"/>
<polyline points="149,365 232,350.5 268,336 301,321.5 312.5,307 325,292.5 343,278 365,263.5 375,249 381,234.5 396,220 424,205.5 461,191 483,176.5 501,162 509,147.5 524,133 546,118.5 559,104 571,89.5 576,80" fill="none" stroke="#0000ff" stroke-width="2" shape-rendering="crispEdges"/>
<g stroke="#000" stroke-width="1" shape-rendering="crispEdges" fill="none">
<rect x="65.5" y="65.5" width="550" height="310"/>
<path d="M128.5 375V369.5M181.5 375V365M234.5 375V369.5M287.5 375V365M340.5 375V369.5M393.5 375V365M446.5 375V369.5M499.5 375V365M552.5 375V369.5M605.5 375V365"/>
<path d="M128.5 66V71M181.5 66V76M234.5 66V71M287.5 66V76M340.5 66V71M393.5 66V76M446.5 66V71M499.5 66V76M552.5 66V71M605.5 66V76"/>
<path d="M66 75.5H76M66 104.5H71M66 133.5H71M66 162.5H71M66 191.5H71M66 220.5H76M66 249.5H71M66 278.5H71M66 307.5H71M66 336.5H71"/>
<path d="M615 75.5H605M615 104.5H610M615 133.5H610M615 162.5H610M615 191.5H610M615 220.5H605M615 249.5H610M615 278.5H610M615 307.5H610M615 336.5H610"/>
</g>
<text class="t" font-size="16" text-anchor="middle" transform="translate(348 30.5) scale(1 0.85)">T0973-D1</text>
<text class="t" font-size="16" text-anchor="middle" transform="translate(334.3 420.3) scale(1 0.85)">Percent of Residues (CA)</text>
<text class="t" font-size="16" text-anchor="middle" transform="translate(30.5 234) rotate(-90) scale(1 0.85)">Distance Cutoff, A</text>
<g class="n" font-size="14" text-anchor="middle">
<text transform="translate(64 394.6) scale(1.15 1)">0</text>
<text transform="translate(181.6 394.6) scale(1.15 1)" letter-spacing="2.4">20</text>
<text transform="translate(287.6 394.6) scale(1.15 1)" letter-spacing="2.4">40</text>
<text transform="translate(393.4 394.6) scale(1.15 1)" letter-spacing="2.4">60</text>
<text transform="translate(499.6 394.6) scale(1.15 1)" letter-spacing="2.4">80</text>
<text transform="translate(610.4 394.6) scale(1.15 1)" letter-spacing="2.4">100</text>
<text transform="translate(54.8 375.7) rotate(-90) scale(1.15 1)">0</text>
<text transform="translate(54.8 220.4) rotate(-90) scale(1.15 1)">5</text>
<text transform="translate(54.8 64.5) rotate(-90) scale(1.15 1)" letter-spacing="2.4">10</text>
</g>
</svg>
</body></html>
